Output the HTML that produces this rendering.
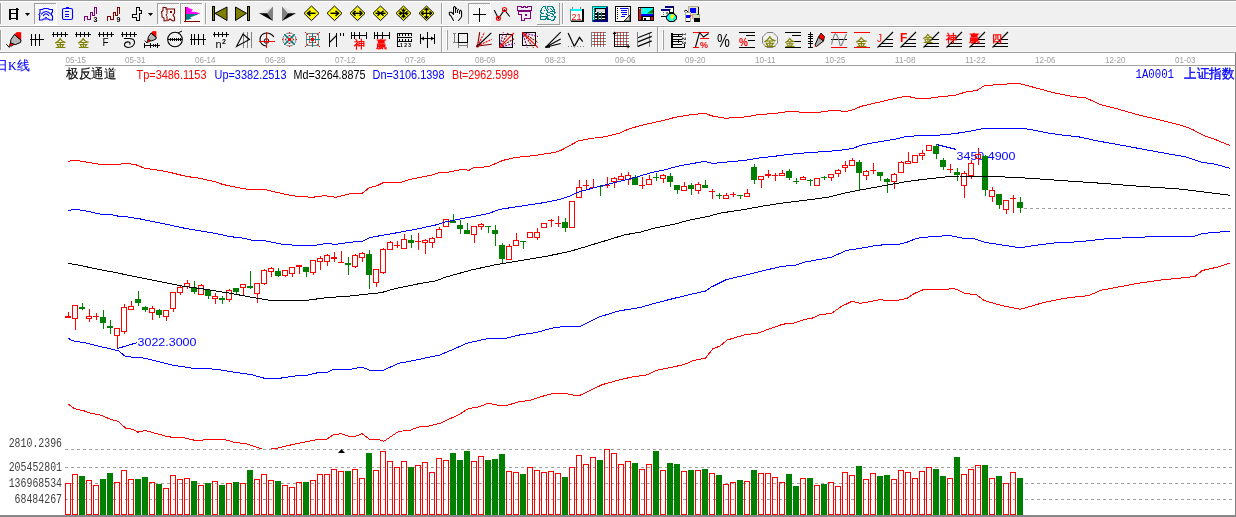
<!DOCTYPE html><html><head><meta charset="utf-8"><style>
html,body{margin:0;padding:0;background:#fff;width:1236px;height:517px;overflow:hidden}
svg{display:block;will-change:transform;font-family:"Liberation Sans",sans-serif}
</style></head><body>
<svg width="1236" height="517" viewBox="0 0 1236 517">
<g shape-rendering="crispEdges">
<rect x="0" y="0" width="1236" height="53" fill="#f0f0f0"/>
<rect x="0" y="0" width="1236" height="1" fill="#a0a0a0"/>
<rect x="0" y="1" width="1236" height="1" fill="#ffffff"/>
<rect x="0" y="25" width="1236" height="1" fill="#ffffff"/>
<rect x="0" y="26" width="1236" height="1" fill="#a0a0a0"/>
<rect x="0" y="27" width="1236" height="1" fill="#ffffff"/>
<rect x="0" y="51" width="1236" height="1" fill="#f8f8f8"/>
<rect x="0" y="52" width="1236" height="1" fill="#a0a0a0"/>
</g>
<defs><pattern id="dith" x="0" y="0" width="2" height="2" patternUnits="userSpaceOnUse"><rect width="2" height="2" fill="#f0f0f0"/><rect width="1" height="1" fill="#ffffff"/><rect x="1" y="1" width="1" height="1" fill="#ffffff"/></pattern></defs>
<g shape-rendering="crispEdges">
<rect x="0" y="3" width="1" height="21" fill="#a0a0a0"/>
<rect x="1" y="3" width="1" height="21" fill="#ffffff"/>
<rect x="9" y="9" width="2" height="11" fill="#000000"/>
<rect x="16" y="8" width="2" height="12" fill="#000000"/>
<rect x="9" y="9" width="9" height="1" fill="#000000"/>
<rect x="11" y="13" width="5" height="1" fill="#000000"/>
<rect x="11" y="18" width="5" height="1" fill="#000000"/>
<rect x="18" y="9" width="1" height="1" fill="#000000"/>
</g>
<polygon points="25,13 30,13 27.5,16" fill="#000000" stroke="none" stroke-width="1"/>
<g shape-rendering="crispEdges">
<rect x="34" y="3" width="23" height="22" fill="url(#dith)"/>
<rect x="34" y="3" width="23" height="1" fill="#a0a0a0"/>
<rect x="34" y="3" width="1" height="22" fill="#a0a0a0"/>
<rect x="34" y="24" width="23" height="1" fill="#ffffff"/>
<rect x="56" y="3" width="1" height="22" fill="#ffffff"/>
<rect x="157" y="3" width="23" height="22" fill="url(#dith)"/>
<rect x="157" y="3" width="23" height="1" fill="#a0a0a0"/>
<rect x="157" y="3" width="1" height="22" fill="#a0a0a0"/>
<rect x="157" y="24" width="23" height="1" fill="#ffffff"/>
<rect x="179" y="3" width="1" height="22" fill="#ffffff"/>
<rect x="180" y="3" width="23" height="22" fill="url(#dith)"/>
<rect x="180" y="3" width="23" height="1" fill="#a0a0a0"/>
<rect x="180" y="3" width="1" height="22" fill="#a0a0a0"/>
<rect x="180" y="24" width="23" height="1" fill="#ffffff"/>
<rect x="202" y="3" width="1" height="22" fill="#ffffff"/>
<rect x="468" y="3" width="23" height="22" fill="url(#dith)"/>
<rect x="468" y="3" width="23" height="1" fill="#a0a0a0"/>
<rect x="468" y="3" width="1" height="22" fill="#a0a0a0"/>
<rect x="468" y="24" width="23" height="1" fill="#ffffff"/>
<rect x="490" y="3" width="1" height="22" fill="#ffffff"/>
<rect x="537" y="3" width="23" height="1" fill="#ffffff"/>
<rect x="537" y="3" width="1" height="22" fill="#ffffff"/>
<rect x="537" y="24" width="23" height="1" fill="#a0a0a0"/>
<rect x="559" y="3" width="1" height="22" fill="#a0a0a0"/>
<rect x="205" y="3" width="1" height="21" fill="#a0a0a0"/>
<rect x="206" y="3" width="1" height="21" fill="#ffffff"/>
<rect x="441" y="3" width="1" height="21" fill="#a0a0a0"/>
<rect x="442" y="3" width="1" height="21" fill="#ffffff"/>
<rect x="562" y="3" width="1" height="21" fill="#a0a0a0"/>
<rect x="563" y="3" width="1" height="21" fill="#ffffff"/>
</g>
<path d="M44,8.5 H48 L49.5,9.5 H52.5 V12 L51.5,13 V15 L52.5,16 V20 H49.5 L48.5,19 H43.5 L42.5,20 H39.5 V17 L40,16 L39,14.5 L40,13 V9.5 H42.5 Z" stroke="#0000ff" stroke-width="1.1" fill="none" />
<path d="M41,14.5 Q46,8.5 51,14.5" stroke="#0000ff" stroke-width="1.1" fill="none" />
<path d="M43,16 Q46,11.5 49,16" stroke="#0000ff" stroke-width="1.1" fill="none" />
<path d="M45,18.5 L46,17 L47,18.5" stroke="#0000ff" stroke-width="1" fill="none" />
<rect x="62.5" y="8.5" width="10" height="11" rx="1.5" fill="none" stroke="#0000ff" stroke-width="1.1"/>
<g shape-rendering="crispEdges">
<rect x="66" y="7" width="3" height="2" fill="#0000ff"/>
<rect x="65" y="11" width="4" height="1" fill="#0000ff"/>
<rect x="65" y="14" width="4" height="1" fill="#0000ff"/>
<rect x="65" y="16" width="4" height="1" fill="#0000ff"/>
</g>
<polyline points="84.5,21 84.5,16.5 87.5,16.5 87.5,19.5 90.5,19.5 90.5,12.5 92.5,12.5 92.5,15.5 94.5,15.5 94.5,7.5 96.5,7.5 96.5,13.5" stroke="#800080" stroke-width="1" fill="none" shape-rendering="crispEdges"/>
<text x="93.6" y="21.8" fill="#000000" font-size="7" font-weight="bold">3</text>
<polyline points="107.5,21 107.5,16.5 110.5,16.5 110.5,19.5 113.5,19.5 113.5,12.5 115.5,12.5 115.5,15.5 117.5,15.5 117.5,7.5 119.5,7.5 119.5,13.5" stroke="#800000" stroke-width="1" fill="none" shape-rendering="crispEdges"/>
<text x="116.6" y="21.8" fill="#000000" font-size="7" font-weight="bold">9</text>
<path d="M136.5,7.5 H139.5 V10.5 H141.5 V13.5 H139.5 V20.5 H136.5 V17.5 H132.5 V14.5 H136.5 Z" stroke="#000000" stroke-width="1" fill="none" shape-rendering="crispEdges"/>
<polygon points="148,13 153,13 150.5,16" fill="#000000" stroke="none" stroke-width="1"/>
<path d="M163,7.5 H166 V9 H174.5 V13 L173,15 L174.5,17.5 V20.5 L173,21 L170,19 L168,20.5 L164,21 V18 L162,17 V14.5 L161.5,12 L163,10.5 Z" stroke="#800000" stroke-width="1.1" fill="none" />
<path d="M167,9 V13.5 L166,15 L167,16.5 V20" stroke="#800000" stroke-width="1" fill="none" />
<g shape-rendering="crispEdges">
<rect x="170" y="11" width="2" height="2" fill="#800000"/>
</g>
<g shape-rendering="crispEdges">
<rect x="185" y="7" width="1" height="15" fill="#800000"/>
<rect x="184" y="21" width="16" height="1" fill="#800000"/>
</g>
<polygon points="186,7 188,7 188.5,8 192.8,9.5 191.3,11.7 196,12.1 200,13.6 200,14 186,14" fill="#ff00ff" stroke="none" stroke-width="1"/>
<polygon points="186,14 198,14 197.8,14.4 192.5,16.6 190,17.2 191.7,18.6 187.7,19.8 186,19.8" fill="#008080" stroke="none" stroke-width="1"/>
<g shape-rendering="crispEdges">
<rect x="212" y="6" width="3" height="15" fill="#000000"/>
<rect x="213" y="7" width="1" height="13" fill="#808000"/>
<rect x="247" y="6" width="3" height="15" fill="#000000"/>
<rect x="248" y="7" width="1" height="13" fill="#808000"/>
</g>
<polygon points="215,13.3 227,7 227,20.5" fill="#808000" stroke="#000000" stroke-width="1"/>
<polygon points="235.5,7 235.5,20.5 246.5,13.3" fill="#808000" stroke="#000000" stroke-width="1"/>
<polygon points="259,13.3 273,6.5 267,13.3" fill="#e0e0e0" stroke="none" stroke-width="1"/>
<polygon points="267,13.3 273,6.5 273,21" fill="#808080" stroke="none" stroke-width="1"/>
<polygon points="259,13.3 267,13.3 273,21" fill="#000000" stroke="none" stroke-width="1"/>
<polygon points="296,13.3 282,6.5 288,13.3" fill="#e0e0e0" stroke="none" stroke-width="1"/>
<polygon points="288,13.3 282,6.5 282,21" fill="#808080" stroke="none" stroke-width="1"/>
<polygon points="296,13.3 288,13.3 282,21" fill="#000000" stroke="none" stroke-width="1"/>
<polygon points="311.5,6 319.0,13.3 311.5,20.6 304.0,13.3" fill="#ffff00" stroke="#000000" stroke-width="1"/>
<line x1="307.5" y1="13.3" x2="315.5" y2="13.3" stroke="#000000" stroke-width="1.5" />
<polyline points="310.5,10.8 307.5,13.3 310.5,15.8" stroke="#000000" stroke-width="1.5" fill="none" />
<polygon points="334.5,6 342.0,13.3 334.5,20.6 327.0,13.3" fill="#ffff00" stroke="#000000" stroke-width="1"/>
<line x1="330.5" y1="13.3" x2="338.5" y2="13.3" stroke="#000000" stroke-width="1.5" />
<polyline points="335.5,10.8 338.5,13.3 335.5,15.8" stroke="#000000" stroke-width="1.5" fill="none" />
<polygon points="357.5,6 365.0,13.3 357.5,20.6 350.0,13.3" fill="#ffff00" stroke="#000000" stroke-width="1"/>
<line x1="357.5" y1="7.300000000000001" x2="357.5" y2="19.3" stroke="#c0c0c0" stroke-width="1" stroke-dasharray="1 1"/>
<line x1="353.5" y1="13.3" x2="361.5" y2="13.3" stroke="#000000" stroke-width="1.5" />
<polyline points="355.5,10.8 353.0,13.3 355.5,15.8" stroke="#000000" stroke-width="1.5" fill="none" />
<polyline points="359.5,10.8 362.0,13.3 359.5,15.8" stroke="#000000" stroke-width="1.5" fill="none" />
<polygon points="380.5,6 388.0,13.3 380.5,20.6 373.0,13.3" fill="#ffff00" stroke="#000000" stroke-width="1"/>
<line x1="380.5" y1="7.300000000000001" x2="380.5" y2="19.3" stroke="#c0c0c0" stroke-width="1" stroke-dasharray="1 1"/>
<line x1="375.5" y1="13.3" x2="385.5" y2="13.3" stroke="#000000" stroke-width="1.5" />
<polyline points="377.5,10.8 380.0,13.3 377.5,15.8" stroke="#000000" stroke-width="1.5" fill="none" />
<polyline points="383.5,10.8 381.0,13.3 383.5,15.8" stroke="#000000" stroke-width="1.5" fill="none" />
<polygon points="403.5,6 411.0,13.3 403.5,20.6 396.0,13.3" fill="#ffff00" stroke="#000000" stroke-width="1"/>
<line x1="398.5" y1="13.3" x2="408.5" y2="13.3" stroke="#000000" stroke-width="1.3" />
<line x1="403.5" y1="8.3" x2="403.5" y2="18.3" stroke="#000000" stroke-width="1.3" />
<polyline points="401.5,9.3 403.5,11.8 405.5,9.3" stroke="#000000" stroke-width="1.2" fill="none" />
<polyline points="401.5,17.3 403.5,14.8 405.5,17.3" stroke="#000000" stroke-width="1.2" fill="none" />
<polyline points="399.5,11.3 402.0,13.3 399.5,15.3" stroke="#000000" stroke-width="1.2" fill="none" />
<polyline points="407.5,11.3 405.0,13.3 407.5,15.3" stroke="#000000" stroke-width="1.2" fill="none" />
<polygon points="426.5,6 434.0,13.3 426.5,20.6 419.0,13.3" fill="#ffff00" stroke="#000000" stroke-width="1"/>
<line x1="421.5" y1="13.3" x2="431.5" y2="13.3" stroke="#000000" stroke-width="1.3" />
<line x1="426.5" y1="8.3" x2="426.5" y2="18.3" stroke="#000000" stroke-width="1.3" />
<polyline points="424.5,10.3 426.5,8.3 428.5,10.3" stroke="#000000" stroke-width="1.3" fill="none" />
<polyline points="424.5,16.3 426.5,18.3 428.5,16.3" stroke="#000000" stroke-width="1.3" fill="none" />
<polyline points="423.5,11.3 421.5,13.3 423.5,15.3" stroke="#000000" stroke-width="1.3" fill="none" />
<polyline points="429.5,11.3 431.5,13.3 429.5,15.3" stroke="#000000" stroke-width="1.3" fill="none" />
<path d="M453.5,20.5 L450.8,15.8 L449.3,14.5 V12.3 H451.7 L453.5,14.5 V7.3 L454.5,6.4 L455.6,7.7 V12.5 M455.6,8.4 L456.7,8.4 M457.6,12.5 V10.2 L458.5,9.3 M459.6,13.6 V11.2 L460.5,10.2 L461.6,11.4 V16.5 L460.7,18 L458.5,20.5" stroke="#ffffff" stroke-width="2.6" fill="none" stroke-linecap="round" stroke-linejoin="round"/>
<path d="M453.5,20.5 L450.8,15.8 L449.3,14.5 V12.3 H451.7 L453.5,14.5 V7.3 L454.5,6.4 L455.6,7.7 V12.5 M455.6,8.4 L456.7,8.4 M457.6,12.5 V10.2 L458.5,9.3 M459.6,13.6 V11.2 L460.5,10.2 L461.6,11.4 V16.5 L460.7,18 L458.5,20.5" stroke="#000000" stroke-width="1.1" fill="none" stroke-linecap="round" stroke-linejoin="round"/>
<g shape-rendering="crispEdges">
<rect x="479" y="8" width="1" height="14" fill="#000000"/>
<rect x="473" y="14" width="13" height="1" fill="#000000"/>
</g>
<polyline points="494.2,10 498.4,18.5 504.5,10 509.7,16.5" stroke="#000000" stroke-width="1.1" fill="none" />
<circle cx="498.4" cy="18.3" r="2" fill="none" stroke="#ff0000" stroke-width="1.2"/>
<circle cx="504.5" cy="9.5" r="2" fill="none" stroke="#ff0000" stroke-width="1.2"/>
<path d="M517.5,6.5 H521.5 V7.5 H523.5 V6.5 H525.5 V7.5 H527.5 V6.5 H531.5 V10.5 H517.5 Z" stroke="#800080" stroke-width="1" fill="none" shape-rendering="crispEdges"/>
<path d="M518.5,11.5 H530.5 V18.5 H524.5 V20.5 H521.5 V14.5 H518.5 Z" stroke="#800080" stroke-width="1" fill="none" shape-rendering="crispEdges"/>
<g shape-rendering="crispEdges">
<rect x="525" y="14" width="2" height="2" fill="#800080"/>
</g>
<g shape-rendering="crispEdges">
<rect x="543" y="6" width="3" height="1" fill="#008080"/>
<rect x="547" y="6" width="6" height="1" fill="#008080"/>
<rect x="542" y="7" width="1" height="1" fill="#008080"/>
<rect x="545" y="7" width="1" height="1" fill="#008080"/>
<rect x="547" y="7" width="1" height="1" fill="#008080"/>
<rect x="552" y="7" width="2" height="1" fill="#008080"/>
<rect x="541" y="8" width="1" height="1" fill="#008080"/>
<rect x="545" y="8" width="1" height="1" fill="#008080"/>
<rect x="547" y="8" width="1" height="1" fill="#008080"/>
<rect x="550" y="8" width="1" height="1" fill="#008080"/>
<rect x="553" y="8" width="1" height="1" fill="#008080"/>
<rect x="541" y="9" width="1" height="1" fill="#008080"/>
<rect x="546" y="9" width="1" height="1" fill="#008080"/>
<rect x="548" y="9" width="1" height="1" fill="#008080"/>
<rect x="551" y="9" width="1" height="1" fill="#008080"/>
<rect x="553" y="9" width="2" height="1" fill="#008080"/>
<rect x="540" y="10" width="2" height="1" fill="#008080"/>
<rect x="544" y="10" width="1" height="1" fill="#008080"/>
<rect x="546" y="10" width="2" height="1" fill="#008080"/>
<rect x="552" y="10" width="1" height="1" fill="#008080"/>
<rect x="554" y="10" width="1" height="1" fill="#008080"/>
<rect x="540" y="11" width="1" height="1" fill="#008080"/>
<rect x="547" y="11" width="1" height="1" fill="#008080"/>
<rect x="550" y="11" width="4" height="1" fill="#008080"/>
<rect x="554" y="11" width="1" height="1" fill="#008080"/>
<rect x="540" y="12" width="2" height="1" fill="#008080"/>
<rect x="547" y="12" width="3" height="1" fill="#008080"/>
<rect x="554" y="12" width="2" height="1" fill="#008080"/>
<rect x="541" y="13" width="3" height="1" fill="#008080"/>
<rect x="546" y="13" width="1" height="1" fill="#008080"/>
<rect x="550" y="13" width="3" height="1" fill="#008080"/>
<rect x="554" y="13" width="1" height="1" fill="#008080"/>
<rect x="540" y="14" width="1" height="1" fill="#008080"/>
<rect x="546" y="14" width="2" height="1" fill="#008080"/>
<rect x="552" y="14" width="2" height="1" fill="#008080"/>
<rect x="540" y="15" width="1" height="1" fill="#008080"/>
<rect x="547" y="15" width="3" height="1" fill="#008080"/>
<rect x="553" y="15" width="1" height="1" fill="#008080"/>
<rect x="540" y="16" width="8" height="1" fill="#008080"/>
<rect x="551" y="16" width="2" height="1" fill="#008080"/>
<rect x="554" y="16" width="2" height="1" fill="#008080"/>
<rect x="540" y="17" width="1" height="1" fill="#008080"/>
<rect x="546" y="17" width="2" height="1" fill="#008080"/>
<rect x="554" y="17" width="2" height="1" fill="#008080"/>
<rect x="540" y="18" width="1" height="1" fill="#008080"/>
<rect x="545" y="18" width="2" height="1" fill="#008080"/>
<rect x="547" y="18" width="2" height="1" fill="#008080"/>
<rect x="554" y="18" width="1" height="1" fill="#008080"/>
<rect x="540" y="19" width="6" height="1" fill="#008080"/>
<rect x="547" y="19" width="4" height="1" fill="#008080"/>
<rect x="553" y="19" width="2" height="1" fill="#008080"/>
<rect x="551" y="20" width="3" height="1" fill="#008080"/>
</g>
<g shape-rendering="crispEdges">
<rect x="571" y="9" width="13" height="13" fill="#000000"/>
<rect x="570" y="9" width="12" height="12" fill="#808080"/>
<rect x="571" y="10" width="11" height="10" fill="#ffffff"/>
<rect x="571" y="9" width="11" height="2" fill="#00ffff"/>
<rect x="572" y="7" width="1" height="2" fill="#808080"/>
<rect x="580" y="7" width="1" height="2" fill="#808080"/>
</g>
<text x="571.5" y="19.5" fill="#ff0000" font-size="9" textLength="10" lengthAdjust="spacingAndGlyphs">21</text>
<g shape-rendering="crispEdges">
<rect x="592" y="6" width="16" height="16" fill="#008080"/>
<rect x="593" y="7" width="1" height="13" fill="#00ffff"/>
<rect x="593" y="7" width="13" height="1" fill="#00ffff"/>
<rect x="606" y="7" width="2" height="15" fill="#000080"/>
<rect x="593" y="20" width="15" height="2" fill="#000080"/>
<rect x="595" y="8" width="11" height="12" fill="#000000"/>
<rect x="596" y="9" width="9" height="3" fill="#d8d8d8"/>
<rect x="595" y="12" width="2" height="1" fill="#ffffff"/>
<rect x="599" y="12" width="2" height="1" fill="#ffffff"/>
<rect x="602" y="12" width="3" height="1" fill="#ffffff"/>
<rect x="595" y="15" width="2" height="1" fill="#ffffff"/>
<rect x="599" y="15" width="2" height="1" fill="#ffffff"/>
<rect x="602" y="15" width="3" height="1" fill="#ffffff"/>
<rect x="595" y="18" width="2" height="1" fill="#ffffff"/>
<rect x="599" y="18" width="2" height="1" fill="#ffffff"/>
<rect x="602" y="18" width="3" height="1" fill="#ffffff"/>
<rect x="598" y="12" width="1" height="8" fill="#008080"/>
<rect x="601" y="12" width="1" height="8" fill="#008080"/>
<rect x="593" y="8" width="1" height="1" fill="#ffffff"/>
<rect x="593" y="10" width="1" height="1" fill="#ffffff"/>
<rect x="593" y="12" width="1" height="1" fill="#ffffff"/>
<rect x="593" y="14" width="1" height="1" fill="#ffffff"/>
<rect x="593" y="16" width="1" height="1" fill="#ffffff"/>
<rect x="593" y="18" width="1" height="1" fill="#ffffff"/>
</g>
<g shape-rendering="crispEdges">
<rect x="615" y="6" width="16" height="16" fill="#000000"/>
<rect x="616" y="7" width="14" height="14" fill="#ffffff"/>
<rect x="617" y="8" width="1" height="1" fill="#000000"/>
<rect x="617" y="10" width="1" height="1" fill="#000000"/>
<rect x="617" y="12" width="1" height="1" fill="#000000"/>
<rect x="617" y="14" width="1" height="1" fill="#000000"/>
<rect x="617" y="16" width="1" height="1" fill="#000000"/>
<rect x="617" y="18" width="1" height="1" fill="#000000"/>
<rect x="620" y="8" width="8" height="1" fill="#0000ff"/>
<rect x="621" y="10" width="6" height="1" fill="#0000ff"/>
<rect x="621" y="12" width="6" height="1" fill="#0000ff"/>
<rect x="622" y="14" width="5" height="1" fill="#0000ff"/>
<rect x="621" y="16" width="4" height="1" fill="#0000ff"/>
<rect x="628" y="8" width="1" height="11" fill="#808080"/>
</g>
<polygon points="624,21 630,15 630,21" fill="#c0c0c0" stroke="#000000" stroke-width="0.8"/>
<g shape-rendering="crispEdges">
<rect x="638" y="7" width="16" height="14" fill="#000000"/>
<rect x="639" y="8" width="2" height="12" fill="#ff0000"/>
<rect x="641" y="8" width="12" height="8" fill="#00ffff"/>
<rect x="641" y="14" width="12" height="2" fill="#0000ff"/>
<rect x="643" y="17" width="7" height="3" fill="#ffffff"/>
<rect x="644" y="18" width="2" height="2" fill="#000000"/>
<rect x="651" y="17" width="2" height="3" fill="#ff0000"/>
<rect x="639" y="8" width="1" height="1" fill="#ffffff"/>
</g>
<polygon points="647,13.5 653,9 653,13.5" fill="#008000" stroke="none" stroke-width="1"/>
<circle cx="644" cy="10" r="0.8" fill="#ffff00"/>
<g shape-rendering="crispEdges">
<rect x="665" y="6" width="9" height="7" fill="#000000"/>
<rect x="665" y="6" width="8" height="6" fill="#ffffff"/>
<rect x="665" y="6" width="8" height="2" fill="#000080"/>
<rect x="670" y="9" width="1" height="1" fill="#808080"/>
<rect x="661" y="9" width="9" height="8" fill="#000000"/>
<rect x="661" y="9" width="8" height="7" fill="#ffffff"/>
<rect x="661" y="9" width="8" height="2" fill="#000080"/>
<rect x="663" y="12" width="1" height="1" fill="#808080"/>
<rect x="663" y="14" width="1" height="1" fill="#808080"/>
<rect x="666" y="12" width="2" height="2" fill="#808080"/>
</g>
<polygon points="669,13 674,13 677,16 677,19 674,22 669,22 666,19 666,16" fill="#000000" stroke="none" stroke-width="1"/>
<polygon points="669.5,14 673.5,14 676,16.5 676,18.5 673.5,21 669.5,21 667,18.5 667,16.5" fill="#00ffff" stroke="none" stroke-width="1"/>
<polygon points="670,16 672,14 675,15.5 673,18 672.5,21 671,19" fill="#ffff00" stroke="none" stroke-width="1"/>
<g shape-rendering="crispEdges">
<rect x="688" y="6" width="11" height="10" fill="#b0b090"/>
<rect x="689" y="7" width="9" height="8" fill="#e0e0c8"/>
<rect x="690" y="8" width="6" height="5" fill="#0000ff"/>
<rect x="698" y="7" width="1" height="9" fill="#000000"/>
<rect x="692" y="14" width="8" height="5" fill="#b0b090"/>
<rect x="693" y="15" width="6" height="3" fill="#d8d8c0"/>
<rect x="697" y="14" width="2" height="1" fill="#008000"/>
<rect x="694" y="18" width="6" height="4" fill="#000000"/>
<rect x="685" y="12" width="6" height="10" fill="#b0b090"/>
<rect x="686" y="13" width="4" height="8" fill="#ffffff"/>
<rect x="686" y="15" width="4" height="3" fill="#0000ff"/>
<rect x="686" y="21" width="4" height="1" fill="#000000"/>
<rect x="690" y="15" width="1" height="2" fill="#ff0000"/>
</g>
<polyline points="684,11.5 686,10 688,12" stroke="#000000" stroke-width="1" fill="none" />
<g shape-rendering="crispEdges">
<rect x="0" y="30" width="1" height="20" fill="#a0a0a0"/>
<rect x="1" y="30" width="1" height="20" fill="#ffffff"/>
<rect x="441" y="27" width="1" height="25" fill="#a0a0a0"/>
<rect x="442" y="27" width="1" height="25" fill="#ffffff"/>
<rect x="447" y="30" width="1" height="20" fill="#a0a0a0"/>
<rect x="446" y="30" width="1" height="20" fill="#ffffff"/>
<rect x="657" y="27" width="1" height="25" fill="#a0a0a0"/>
<rect x="658" y="27" width="1" height="25" fill="#ffffff"/>
<rect x="663" y="30" width="1" height="20" fill="#a0a0a0"/>
<rect x="662" y="30" width="1" height="20" fill="#ffffff"/>
</g>
<polygon points="14.40,34.60 21.00,40.00 20.60,42.40 15.20,44.70 10.40,42.80 11.00,39.30" fill="#b8b8b8" stroke="#000000" stroke-width="1"/>
<polygon points="14.40,34.60 16.80,32.10 21.20,32.30 21.20,40.30" fill="#ff0000" stroke="none" stroke-width="1"/>
<line x1="14.4" y1="34.6" x2="21.0" y2="40.0" stroke="#000000" stroke-width="1" />
<polygon points="10.40,42.80 14.20,44.40 11.50,46.20 9.30,45.60" fill="#ff0000" stroke="#000000" stroke-width="0.6"/>
<polyline points="6.30,44.30 9.40,47.40 10.20,45.50" stroke="#000000" stroke-width="1" fill="none" />
<g shape-rendering="crispEdges">
<rect x="31" y="34" width="1" height="12" fill="#000000"/>
<rect x="35" y="34" width="1" height="12" fill="#000000"/>
<rect x="39" y="34" width="1" height="12" fill="#000000"/>
<rect x="30" y="39" width="14" height="1" fill="#000000"/>
<rect x="52" y="34" width="16" height="1" fill="#000000"/>
<rect x="53" y="32" width="1" height="5" fill="#000000"/>
<rect x="57" y="32" width="1" height="5" fill="#000000"/>
<rect x="61" y="32" width="1" height="5" fill="#000000"/>
<rect x="65" y="32" width="1" height="5" fill="#000000"/>
<rect x="75" y="34" width="16" height="1" fill="#000000"/>
<rect x="76" y="32" width="1" height="5" fill="#000000"/>
<rect x="80" y="32" width="1" height="5" fill="#000000"/>
<rect x="84" y="32" width="1" height="5" fill="#000000"/>
<rect x="88" y="32" width="1" height="5" fill="#000000"/>
<rect x="98" y="34" width="16" height="1" fill="#000000"/>
<rect x="99" y="32" width="1" height="5" fill="#000000"/>
<rect x="103" y="32" width="1" height="5" fill="#000000"/>
<rect x="107" y="32" width="1" height="5" fill="#000000"/>
<rect x="111" y="32" width="1" height="5" fill="#000000"/>
<rect x="121" y="34" width="16" height="1" fill="#000000"/>
<rect x="122" y="32" width="1" height="5" fill="#000000"/>
<rect x="126" y="32" width="1" height="5" fill="#000000"/>
<rect x="130" y="32" width="1" height="5" fill="#000000"/>
<rect x="134" y="32" width="1" height="5" fill="#000000"/>
<rect x="213" y="34" width="16" height="1" fill="#000000"/>
<rect x="214" y="32" width="1" height="5" fill="#000000"/>
<rect x="218" y="32" width="1" height="5" fill="#000000"/>
<rect x="222" y="32" width="1" height="5" fill="#000000"/>
<rect x="226" y="32" width="1" height="5" fill="#000000"/>
</g>
<text x="54.5" y="47" fill="#808000" font-size="10.5" font-weight="bold">金</text>
<text x="77.5" y="47" fill="#808000" font-size="10.5" font-weight="bold">金</text>
<text x="102.5" y="46" fill="#000000" font-size="10" >F</text>
<path d="M124,38.5 H130 Q135,39 134.5,43 Q133.5,47.5 128,47.5 Q124,47 124.5,44 Q125.5,41.5 129,42 Q131,43 129.5,44.5" stroke="#000000" stroke-width="1.1" fill="none" />
<polygon points="151.05,33.03 156.20,37.24 155.89,39.11 151.68,40.91 147.93,39.42 148.40,36.69" fill="#b8b8b8" stroke="#000000" stroke-width="1"/>
<polygon points="151.05,33.03 152.92,31.08 156.36,31.23 156.36,37.47" fill="#ff0000" stroke="none" stroke-width="1"/>
<line x1="151.052" y1="33.028" x2="156.2" y2="37.24" stroke="#000000" stroke-width="1" />
<polygon points="147.93,39.42 150.90,40.67 148.79,42.08 147.07,41.61" fill="#ff0000" stroke="#000000" stroke-width="0.6"/>
<polyline points="144.73,40.59 147.15,43.01 147.78,41.53" stroke="#000000" stroke-width="1" fill="none" />
<g shape-rendering="crispEdges">
<rect x="144" y="45" width="16" height="1" fill="#000000"/>
<rect x="144" y="43" width="1" height="5" fill="#000000"/>
<rect x="150" y="43" width="1" height="5" fill="#000000"/>
<rect x="153" y="44" width="1" height="3" fill="#000000"/>
<rect x="155" y="44" width="1" height="3" fill="#000000"/>
<rect x="157" y="43" width="1" height="5" fill="#000000"/>
</g>
<circle cx="175" cy="39.5" r="7.3" fill="none" stroke="#000000" stroke-width="1.1"/>
<g shape-rendering="crispEdges">
<rect x="168" y="39" width="14" height="1" fill="#000000"/>
<rect x="170" y="38" width="1" height="3" fill="#000000"/>
<rect x="172" y="38" width="1" height="3" fill="#000000"/>
<rect x="174" y="38" width="1" height="3" fill="#000000"/>
<rect x="176" y="38" width="1" height="3" fill="#000000"/>
<rect x="178" y="38" width="1" height="3" fill="#000000"/>
<rect x="180" y="38" width="1" height="3" fill="#000000"/>
<rect x="191" y="34" width="1" height="11" fill="#000000"/>
<rect x="194" y="34" width="1" height="11" fill="#000000"/>
<rect x="198" y="34" width="1" height="11" fill="#000000"/>
<rect x="203" y="34" width="1" height="11" fill="#000000"/>
<rect x="190" y="39" width="16" height="1" fill="#000000"/>
</g>
<line x1="178" y1="33" x2="182" y2="31" stroke="#000000" stroke-width="1" />
<text x="215.5" y="47.5" fill="#000000" font-size="11" >n</text>
<text x="222" y="43.5" fill="#000000" font-size="7" font-weight="bold">2</text>
<g shape-rendering="crispEdges">
<rect x="243" y="32" width="1" height="16" fill="#808080"/>
<rect x="247" y="32" width="1" height="16" fill="#808080"/>
<rect x="251" y="32" width="1" height="16" fill="#808080"/>
</g>
<polygon points="236.5,46.5 243,34 249.5,39.5" fill="none" stroke="#000000" stroke-width="1.1"/>
<path d="M266.5,46 A6.5,6.5 0 1 1 266.5,33 Q271,33 274,37" stroke="#000000" stroke-width="1.1" fill="none" />
<circle cx="266.5" cy="41" r="2.3" fill="none" stroke="#000000" stroke-width="1"/>
<g shape-rendering="crispEdges">
<rect x="266" y="32" width="1" height="16" fill="#ff0000"/>
<rect x="259" y="41" width="16" height="1" fill="#ff0000"/>
</g>
<polygon points="286.8,33.3 292,33.3 295.7,37 295.7,42 292,45.7 286.8,45.7 283.1,42 283.1,37" fill="none" stroke="#808080" stroke-width="1"/>
<polygon points="288,36 291,36 293,38 293,41 291,43 288,43 286,41 286,38" fill="none" stroke="#808080" stroke-width="1"/>
<line x1="285" y1="35" x2="294" y2="44" stroke="#008080" stroke-width="1.6" />
<line x1="294" y1="35" x2="285" y2="44" stroke="#008080" stroke-width="1.6" />
<g shape-rendering="crispEdges">
<rect x="289" y="32" width="1" height="1" fill="#ff0000"/>
<rect x="289" y="35" width="1" height="1" fill="#ff0000"/>
<rect x="289" y="43" width="1" height="1" fill="#ff0000"/>
<rect x="289" y="46" width="1" height="1" fill="#ff0000"/>
<rect x="282" y="39" width="1" height="1" fill="#ff0000"/>
<rect x="285" y="39" width="1" height="1" fill="#ff0000"/>
<rect x="293" y="39" width="1" height="1" fill="#ff0000"/>
<rect x="296" y="39" width="1" height="1" fill="#ff0000"/>
<rect x="288" y="38" width="3" height="3" fill="#ff0000"/>
<rect x="284" y="34" width="1" height="1" fill="#008080"/>
<rect x="294" y="34" width="1" height="1" fill="#008080"/>
<rect x="284" y="44" width="1" height="1" fill="#008080"/>
<rect x="294" y="44" width="1" height="1" fill="#008080"/>
<rect x="306.5" y="33.5" width="12" height="12" fill="none" stroke="#808080"/>
<rect x="309.5" y="36.5" width="6" height="6" fill="none" stroke="#808080"/>
<rect x="312" y="33" width="1" height="14" fill="#008080"/>
<rect x="306" y="39" width="14" height="1" fill="#008080"/>
<rect x="305" y="32" width="1" height="1" fill="#ff0000"/>
<rect x="319" y="32" width="1" height="1" fill="#ff0000"/>
<rect x="305" y="46" width="1" height="1" fill="#ff0000"/>
<rect x="319" y="46" width="1" height="1" fill="#ff0000"/>
<rect x="307" y="34" width="1" height="1" fill="#ff0000"/>
<rect x="317" y="34" width="1" height="1" fill="#ff0000"/>
<rect x="307" y="44" width="1" height="1" fill="#ff0000"/>
<rect x="317" y="44" width="1" height="1" fill="#ff0000"/>
<rect x="309" y="36" width="1" height="1" fill="#ff0000"/>
<rect x="315" y="36" width="1" height="1" fill="#ff0000"/>
<rect x="309" y="42" width="1" height="1" fill="#ff0000"/>
<rect x="315" y="42" width="1" height="1" fill="#ff0000"/>
<rect x="311" y="38" width="3" height="3" fill="#ff0000"/>
<rect x="329" y="33" width="1" height="14" fill="#000000"/>
<rect x="336" y="33" width="1" height="14" fill="#000000"/>
<rect x="340" y="33" width="1" height="3" fill="#000000"/>
<rect x="343" y="33" width="1" height="3" fill="#000000"/>
</g>
<line x1="329.5" y1="42.5" x2="336.5" y2="35.5" stroke="#000000" stroke-width="1.1" />
<g shape-rendering="crispEdges">
<rect x="351" y="35" width="16" height="1" fill="#000000"/>
<rect x="351" y="32" width="1" height="7" fill="#000000"/>
<rect x="354" y="32" width="1" height="7" fill="#000000"/>
<rect x="359" y="32" width="1" height="7" fill="#000000"/>
<rect x="366" y="32" width="1" height="7" fill="#000000"/>
<rect x="374" y="35" width="16" height="1" fill="#000000"/>
<rect x="374" y="32" width="1" height="7" fill="#000000"/>
<rect x="377" y="32" width="1" height="7" fill="#000000"/>
<rect x="382" y="32" width="1" height="7" fill="#000000"/>
<rect x="389" y="32" width="1" height="7" fill="#000000"/>
</g>
<text x="353.5" y="47.5" fill="#ff0000" font-size="11" font-weight="bold">神</text>
<text x="375.5" y="47.5" fill="#ff0000" font-size="11" font-weight="bold">赢</text>
<g shape-rendering="crispEdges">
<rect x="397" y="33" width="15" height="1" fill="#000000"/>
<rect x="397" y="33" width="1" height="14" fill="#000000"/>
<rect x="397" y="46" width="3" height="1" fill="#000000"/>
<rect x="399" y="34" width="1" height="2" fill="#000000"/>
<rect x="402" y="34" width="1" height="2" fill="#000000"/>
<rect x="405" y="34" width="1" height="2" fill="#000000"/>
<rect x="408" y="34" width="1" height="2" fill="#000000"/>
<rect x="411" y="34" width="1" height="2" fill="#000000"/>
<rect x="398" y="41" width="14" height="1" fill="#000000"/>
<rect x="399" y="39" width="1" height="2" fill="#000000"/>
<rect x="402" y="39" width="1" height="2" fill="#000000"/>
<rect x="405" y="39" width="1" height="2" fill="#000000"/>
<rect x="408" y="39" width="1" height="2" fill="#000000"/>
<rect x="411" y="39" width="1" height="2" fill="#000000"/>
<rect x="398" y="37" width="14" height="1" fill="#000000"/>
</g>
<text x="400" y="47" fill="#000000" font-size="5" font-weight="bold">1 2 3</text>
<g shape-rendering="crispEdges">
<rect x="420" y="34" width="1" height="10" fill="#000000"/>
<rect x="434" y="34" width="1" height="10" fill="#000000"/>
<rect x="427" y="32" width="1" height="16" fill="#000000"/>
<rect x="421" y="38" width="13" height="1" fill="#000000"/>
</g>
<polygon points="421,38.5 424,36.5 424,40.5" fill="#000000" stroke="none" stroke-width="1"/>
<polygon points="434,38.5 431,36.5 431,40.5" fill="#000000" stroke="none" stroke-width="1"/>
<g shape-rendering="crispEdges">
<rect x="458.5" y="33.5" width="9" height="9" fill="none" stroke="#000000" stroke-width="1.4"/>
<rect x="454" y="33" width="1" height="10" fill="#808080"/>
<rect x="453" y="33" width="3" height="1" fill="#808080"/>
<rect x="453" y="42" width="5" height="1" fill="#808080"/>
<rect x="458" y="45" width="10" height="1" fill="#808080"/>
<rect x="458" y="43" width="1" height="5" fill="#808080"/>
<rect x="467" y="43" width="1" height="5" fill="#808080"/>
</g>
<line x1="477.5" y1="46" x2="479.7" y2="32.2" stroke="#800000" stroke-width="1.1" />
<line x1="477.5" y1="46" x2="484.5" y2="32.2" stroke="#ff0000" stroke-width="1.1" stroke-dasharray="2 1"/>
<line x1="477.5" y1="46" x2="491.3" y2="32.8" stroke="#000000" stroke-width="1.1" />
<line x1="477.5" y1="46" x2="491.7" y2="39.3" stroke="#ff0000" stroke-width="1.1" stroke-dasharray="2 1"/>
<line x1="477.5" y1="46" x2="491.7" y2="44.2" stroke="#800000" stroke-width="1.1" />
<circle cx="477.5" cy="46" r="1.5" fill="#800000"/>
<g shape-rendering="crispEdges">
<rect x="499.5" y="34.5" width="13" height="13" fill="none" stroke="#000000" stroke-width="1.2"/>
</g>
<line x1="499.5" y1="47.5" x2="503.4" y2="32.2" stroke="#800080" stroke-width="1.1" stroke-dasharray="2 1"/>
<line x1="499.5" y1="47.5" x2="514.7" y2="43.2" stroke="#800080" stroke-width="1.1" stroke-dasharray="2 1"/>
<line x1="499.5" y1="47.5" x2="508.6" y2="32.2" stroke="#800000" stroke-width="1.1" stroke-dasharray="2 1"/>
<line x1="499.5" y1="47.5" x2="514.7" y2="38.3" stroke="#800000" stroke-width="1.1" stroke-dasharray="2 1"/>
<line x1="499.5" y1="47.5" x2="514" y2="32.8" stroke="#ff0000" stroke-width="1.1" />
<g shape-rendering="crispEdges">
<rect x="522.5" y="32.5" width="13" height="13" fill="none" stroke="#000000" stroke-width="1.2"/>
</g>
<line x1="522.5" y1="32.5" x2="527.3" y2="47.7" stroke="#800080" stroke-width="1.1" stroke-dasharray="2 1"/>
<line x1="522.5" y1="32.5" x2="538" y2="36.4" stroke="#800080" stroke-width="1.1" stroke-dasharray="2 1"/>
<line x1="522.5" y1="32.5" x2="533.5" y2="47.7" stroke="#800000" stroke-width="1.1" stroke-dasharray="2 1"/>
<line x1="522.5" y1="32.5" x2="538" y2="42.5" stroke="#800000" stroke-width="1.1" stroke-dasharray="2 1"/>
<line x1="522.5" y1="32.5" x2="538" y2="47.7" stroke="#ff0000" stroke-width="1.1" />
<line x1="545.5" y1="47.3" x2="560.7" y2="32.2" stroke="#000000" stroke-width="1.1" />
<line x1="545.5" y1="47.3" x2="560.7" y2="39" stroke="#000000" stroke-width="1.1" />
<line x1="545.5" y1="47.3" x2="560.7" y2="43.5" stroke="#000000" stroke-width="1.1" />
<polygon points="545,47.8 550,44.5 550,47.8" fill="#000000" stroke="none" stroke-width="1"/>
<polyline points="568.1,33.1 574.3,46.4 579.5,37.4 582.7,41.6" stroke="#000000" stroke-width="1.2" fill="none" />
<line x1="568" y1="46.5" x2="584" y2="46.5" stroke="#808080" stroke-width="1" stroke-dasharray="1 2"/>
<g shape-rendering="crispEdges">
<rect x="591" y="32" width="15" height="15" fill="#808080"/>
<rect x="592" y="33" width="2" height="2" fill="#ffffff"/>
<rect x="595" y="33" width="2" height="2" fill="#ffffff"/>
<rect x="598" y="33" width="2" height="2" fill="#ffffff"/>
<rect x="601" y="33" width="2" height="2" fill="#ffffff"/>
<rect x="604" y="33" width="2" height="2" fill="#ffffff"/>
<rect x="592" y="36" width="2" height="2" fill="#ffffff"/>
<rect x="595" y="36" width="2" height="2" fill="#ffffff"/>
<rect x="598" y="36" width="2" height="2" fill="#ffffff"/>
<rect x="601" y="36" width="2" height="2" fill="#ffffff"/>
<rect x="604" y="36" width="2" height="2" fill="#ffffff"/>
<rect x="592" y="39" width="2" height="2" fill="#ffffff"/>
<rect x="595" y="39" width="2" height="2" fill="#ffffff"/>
<rect x="598" y="39" width="2" height="2" fill="#ffffff"/>
<rect x="601" y="39" width="2" height="2" fill="#ffffff"/>
<rect x="604" y="39" width="2" height="2" fill="#ffffff"/>
<rect x="592" y="42" width="2" height="2" fill="#ffffff"/>
<rect x="595" y="42" width="2" height="2" fill="#ffffff"/>
<rect x="598" y="42" width="2" height="2" fill="#ffffff"/>
<rect x="601" y="42" width="2" height="2" fill="#ffffff"/>
<rect x="604" y="42" width="2" height="2" fill="#ffffff"/>
<rect x="592" y="45" width="2" height="2" fill="#ffffff"/>
<rect x="595" y="45" width="2" height="2" fill="#ffffff"/>
<rect x="598" y="45" width="2" height="2" fill="#ffffff"/>
<rect x="601" y="45" width="2" height="2" fill="#ffffff"/>
<rect x="604" y="45" width="2" height="2" fill="#ffffff"/>
<rect x="594" y="32" width="1" height="1" fill="#ff0000"/>
<rect x="597" y="32" width="1" height="1" fill="#ff0000"/>
<rect x="600" y="32" width="1" height="1" fill="#ff0000"/>
<rect x="603" y="32" width="1" height="1" fill="#ff0000"/>
<rect x="594" y="35" width="1" height="1" fill="#ff0000"/>
<rect x="597" y="35" width="1" height="1" fill="#ff0000"/>
<rect x="600" y="35" width="1" height="1" fill="#ff0000"/>
<rect x="603" y="35" width="1" height="1" fill="#ff0000"/>
<rect x="594" y="38" width="1" height="1" fill="#ff0000"/>
<rect x="597" y="38" width="1" height="1" fill="#ff0000"/>
<rect x="600" y="38" width="1" height="1" fill="#ff0000"/>
<rect x="603" y="38" width="1" height="1" fill="#ff0000"/>
<rect x="594" y="41" width="1" height="1" fill="#ff0000"/>
<rect x="597" y="41" width="1" height="1" fill="#ff0000"/>
<rect x="600" y="41" width="1" height="1" fill="#ff0000"/>
<rect x="603" y="41" width="1" height="1" fill="#ff0000"/>
<rect x="594" y="44" width="1" height="1" fill="#ff0000"/>
<rect x="597" y="44" width="1" height="1" fill="#ff0000"/>
<rect x="600" y="44" width="1" height="1" fill="#ff0000"/>
<rect x="603" y="44" width="1" height="1" fill="#ff0000"/>
</g>
<g shape-rendering="crispEdges">
<rect x="614" y="32" width="15" height="15" fill="#808080"/>
<rect x="615" y="33" width="2" height="2" fill="#ffffff"/>
<rect x="618" y="33" width="2" height="2" fill="#ffffff"/>
<rect x="621" y="33" width="2" height="2" fill="#ffffff"/>
<rect x="624" y="33" width="2" height="2" fill="#ffffff"/>
<rect x="627" y="33" width="2" height="2" fill="#ffffff"/>
<rect x="615" y="36" width="2" height="2" fill="#ffffff"/>
<rect x="618" y="36" width="2" height="2" fill="#ffffff"/>
<rect x="621" y="36" width="2" height="2" fill="#ffffff"/>
<rect x="624" y="36" width="2" height="2" fill="#ffffff"/>
<rect x="627" y="36" width="2" height="2" fill="#ffffff"/>
<rect x="615" y="39" width="2" height="2" fill="#ffffff"/>
<rect x="618" y="39" width="2" height="2" fill="#ffffff"/>
<rect x="621" y="39" width="2" height="2" fill="#ffffff"/>
<rect x="624" y="39" width="2" height="2" fill="#ffffff"/>
<rect x="627" y="39" width="2" height="2" fill="#ffffff"/>
<rect x="615" y="42" width="2" height="2" fill="#ffffff"/>
<rect x="618" y="42" width="2" height="2" fill="#ffffff"/>
<rect x="621" y="42" width="2" height="2" fill="#ffffff"/>
<rect x="624" y="42" width="2" height="2" fill="#ffffff"/>
<rect x="627" y="42" width="2" height="2" fill="#ffffff"/>
<rect x="615" y="45" width="2" height="2" fill="#ffffff"/>
<rect x="618" y="45" width="2" height="2" fill="#ffffff"/>
<rect x="621" y="45" width="2" height="2" fill="#ffffff"/>
<rect x="624" y="45" width="2" height="2" fill="#ffffff"/>
<rect x="627" y="45" width="2" height="2" fill="#ffffff"/>
<rect x="617" y="32" width="1" height="1" fill="#ff0000"/>
<rect x="620" y="32" width="1" height="1" fill="#ff0000"/>
<rect x="623" y="32" width="1" height="1" fill="#ff0000"/>
<rect x="626" y="32" width="1" height="1" fill="#ff0000"/>
<rect x="617" y="35" width="1" height="1" fill="#ff0000"/>
<rect x="620" y="35" width="1" height="1" fill="#ff0000"/>
<rect x="623" y="35" width="1" height="1" fill="#ff0000"/>
<rect x="626" y="35" width="1" height="1" fill="#ff0000"/>
<rect x="617" y="38" width="1" height="1" fill="#ff0000"/>
<rect x="620" y="38" width="1" height="1" fill="#ff0000"/>
<rect x="623" y="38" width="1" height="1" fill="#ff0000"/>
<rect x="626" y="38" width="1" height="1" fill="#ff0000"/>
<rect x="617" y="41" width="1" height="1" fill="#ff0000"/>
<rect x="620" y="41" width="1" height="1" fill="#ff0000"/>
<rect x="623" y="41" width="1" height="1" fill="#ff0000"/>
<rect x="626" y="41" width="1" height="1" fill="#ff0000"/>
<rect x="617" y="44" width="1" height="1" fill="#ff0000"/>
<rect x="620" y="44" width="1" height="1" fill="#ff0000"/>
<rect x="623" y="44" width="1" height="1" fill="#ff0000"/>
<rect x="626" y="44" width="1" height="1" fill="#ff0000"/>
<rect x="614" y="32" width="1" height="15" fill="#000000"/>
<rect x="614" y="46" width="15" height="1" fill="#000000"/>
</g>
<polygon points="614.5,31.5 612.5,34 616.5,34" fill="#000000" stroke="none" stroke-width="1"/>
<polygon points="630,46.5 627.5,44.5 627.5,48.5" fill="#000000" stroke="none" stroke-width="1"/>
<g shape-rendering="crispEdges">
<rect x="637" y="32" width="1" height="15" fill="#808080"/>
<rect x="649" y="33" width="1" height="14" fill="#808080"/>
</g>
<line x1="638" y1="37.7" x2="651.7" y2="32.2" stroke="#000000" stroke-width="1.2" />
<line x1="638" y1="41.900000000000006" x2="651.7" y2="36.400000000000006" stroke="#000000" stroke-width="1.2" />
<line x1="638" y1="46.400000000000006" x2="651.7" y2="40.900000000000006" stroke="#000000" stroke-width="1.2" />
<g shape-rendering="crispEdges">
<rect x="671" y="33" width="2" height="15" fill="#000000"/>
<rect x="671" y="47" width="14" height="1" fill="#000000"/>
<rect x="684" y="44" width="1" height="4" fill="#000000"/>
<rect x="673" y="34" width="9" height="1" fill="#000000"/>
<rect x="673" y="36" width="9" height="1" fill="#000000"/>
<rect x="673" y="39" width="9" height="1" fill="#000000"/>
<rect x="673" y="41" width="9" height="1" fill="#000000"/>
<rect x="673" y="44" width="9" height="1" fill="#000000"/>
<rect x="678" y="35" width="1" height="1" fill="#000000"/>
<rect x="678" y="40" width="1" height="1" fill="#000000"/>
<rect x="678" y="42" width="1" height="1" fill="#000000"/>
</g>
<text x="0" y="0" fill="#000000" font-size="5" font-weight="bold" transform="translate(681.5,33) rotate(90)">1 2 3</text>
<g shape-rendering="crispEdges">
<rect x="693" y="32" width="16" height="1" fill="#ff0000"/>
<rect x="693" y="47" width="6" height="1" fill="#ff0000"/>
<rect x="700" y="38" width="9" height="1" fill="#ff0000"/>
</g>
<polyline points="695.5,47 699.5,32.5 703.5,37 708.5,33.5" stroke="#000000" stroke-width="1.1" fill="none" />
<text x="700" y="47.5" fill="#ff0000" font-size="9" font-weight="bold">%</text>
<text x="0" y="0" fill="#000000" font-size="14.5" transform="translate(717,46.6) scale(1,1.22)">%</text>
<g shape-rendering="crispEdges">
<rect x="739" y="32" width="16" height="1" fill="#000000"/>
<rect x="746" y="35" width="9" height="1" fill="#000000"/>
<rect x="748" y="40" width="7" height="1" fill="#000000"/>
<rect x="739" y="47" width="16" height="1" fill="#000000"/>
</g>
<text x="739" y="46" fill="#ff0000" font-size="10" font-weight="bold">%</text>
<polygon points="767,32.5 773,32.5 777.5,37 777.5,43 773,47.5 767,47.5 762.5,43 762.5,37" fill="none" stroke="#808080" stroke-width="1"/>
<text x="764" y="45.5" fill="#808000" font-size="11.5" font-weight="bold">金</text>
<g shape-rendering="crispEdges">
<rect x="785" y="32" width="16" height="1" fill="#000000"/>
<rect x="792" y="35" width="9" height="1" fill="#000000"/>
<rect x="794" y="41" width="7" height="1" fill="#000000"/>
<rect x="785" y="47" width="16" height="1" fill="#000000"/>
</g>
<text x="784.5" y="46" fill="#808000" font-size="10" font-weight="bold">金</text>
<g shape-rendering="crispEdges">
<rect x="810" y="32" width="1" height="16" fill="#000000"/>
<rect x="808" y="34" width="5" height="1" fill="#000000"/>
<rect x="808" y="36" width="5" height="1" fill="#000000"/>
<rect x="808" y="38" width="5" height="1" fill="#000000"/>
<rect x="808" y="41" width="5" height="1" fill="#000000"/>
<rect x="808" y="43" width="5" height="1" fill="#000000"/>
<rect x="808" y="47" width="5" height="1" fill="#000000"/>
</g>
<polygon points="815,45 818.5,37 823.5,41 816.5,46.5" fill="#b0b0b0" stroke="#000000" stroke-width="1"/>
<polygon points="818.5,37 821,33 824.5,36.5 823.5,41" fill="#ff0000" stroke="#000000" stroke-width="0.8"/>
<polygon points="815,45 816.5,46.5 814.5,47" fill="#ff0000" stroke="none" stroke-width="1"/>
<g shape-rendering="crispEdges">
<rect x="831" y="32" width="16" height="1" fill="#ff0000"/>
<rect x="831" y="47" width="16" height="1" fill="#ff0000"/>
<rect x="831" y="39" width="16" height="1" fill="#000000"/>
</g>
<path d="M831.5,44.5 Q834.5,32 836,34 Q838.5,37 840,45 Q841,47 842,44 L846.5,34" stroke="#808080" stroke-width="1.1" fill="none" />
<g shape-rendering="crispEdges">
<rect x="854" y="32" width="16" height="1" fill="#ff0000"/>
<rect x="854" y="47" width="16" height="1" fill="#ff0000"/>
</g>
<text x="856" y="45.5" fill="#808000" font-size="10.5" font-weight="bold">金</text>
<line x1="877.5" y1="47.5" x2="893" y2="32" stroke="#000000" stroke-width="1.1" />
<g shape-rendering="crispEdges">
<rect x="886" y="39" width="7" height="1" fill="#000000"/>
<rect x="882" y="43" width="11" height="1" fill="#000000"/>
<rect x="879" y="46" width="14" height="1" fill="#000000"/>
</g>
<text x="877" y="41.5" fill="#ff0000" font-size="10" >J</text>
<line x1="900.5" y1="47.5" x2="916" y2="32" stroke="#000000" stroke-width="1.1" />
<g shape-rendering="crispEdges">
<rect x="909" y="39" width="7" height="1" fill="#000000"/>
<rect x="905" y="43" width="11" height="1" fill="#000000"/>
<rect x="902" y="46" width="14" height="1" fill="#000000"/>
</g>
<text x="900" y="41.5" fill="#ff0000" font-size="12" font-weight="bold">F</text>
<line x1="923.5" y1="47.5" x2="939" y2="32" stroke="#000000" stroke-width="1.1" />
<g shape-rendering="crispEdges">
<rect x="932" y="39" width="7" height="1" fill="#000000"/>
<rect x="928" y="43" width="11" height="1" fill="#000000"/>
<rect x="925" y="46" width="14" height="1" fill="#000000"/>
</g>
<text x="923" y="41.5" fill="#808000" font-size="10" font-weight="bold">金</text>
<line x1="946.5" y1="47.5" x2="962" y2="32" stroke="#000000" stroke-width="1.1" />
<g shape-rendering="crispEdges">
<rect x="955" y="39" width="7" height="1" fill="#000000"/>
<rect x="951" y="43" width="11" height="1" fill="#000000"/>
<rect x="948" y="46" width="14" height="1" fill="#000000"/>
</g>
<text x="946" y="41.5" fill="#ff0000" font-size="11" font-weight="bold">神</text>
<line x1="969.5" y1="47.5" x2="985" y2="32" stroke="#000000" stroke-width="1.1" />
<g shape-rendering="crispEdges">
<rect x="978" y="39" width="7" height="1" fill="#000000"/>
<rect x="974" y="43" width="11" height="1" fill="#000000"/>
<rect x="971" y="46" width="14" height="1" fill="#000000"/>
</g>
<text x="969" y="41.5" fill="#ff0000" font-size="11" font-weight="bold">赢</text>
<line x1="992.5" y1="47.5" x2="1008" y2="32" stroke="#000000" stroke-width="1.1" />
<g shape-rendering="crispEdges">
<rect x="1001" y="39" width="7" height="1" fill="#000000"/>
<rect x="997" y="43" width="11" height="1" fill="#000000"/>
<rect x="994" y="46" width="14" height="1" fill="#000000"/>
</g>
<text x="992" y="41.5" fill="#ff0000" font-size="10" font-weight="bold">四</text>
<g shape-rendering="crispEdges">
<rect x="1235" y="53" width="1" height="462" fill="#808080"/>
<rect x="0" y="515" width="1236" height="2" fill="#888888"/>
<rect x="65" y="65" width="1170" height="1" fill="#a0a0a0"/>
<line x1="65" y1="449.5" x2="1234" y2="449.5" stroke="#a0a0a0" stroke-width="1" stroke-dasharray="3 3"/>
<line x1="65" y1="467.5" x2="1234" y2="467.5" stroke="#a0a0a0" stroke-width="1" stroke-dasharray="3 3"/>
<line x1="65" y1="483.5" x2="1234" y2="483.5" stroke="#a0a0a0" stroke-width="1" stroke-dasharray="3 3"/>
<line x1="65" y1="499.5" x2="1234" y2="499.5" stroke="#a0a0a0" stroke-width="1" stroke-dasharray="3 3"/>
<line x1="1024" y1="208.5" x2="1234" y2="208.5" stroke="#a0a0a0" stroke-width="1" stroke-dasharray="3 3"/>
</g>
<text x="65.5" y="63" font-size="9.5" fill="#a0a0a0" textLength="20.5" lengthAdjust="spacingAndGlyphs">05-15</text>
<text x="125" y="63" font-size="9.5" fill="#a0a0a0" textLength="20.5" lengthAdjust="spacingAndGlyphs">05-31</text>
<text x="195" y="63" font-size="9.5" fill="#a0a0a0" textLength="20.5" lengthAdjust="spacingAndGlyphs">06-14</text>
<text x="265" y="63" font-size="9.5" fill="#a0a0a0" textLength="20.5" lengthAdjust="spacingAndGlyphs">06-28</text>
<text x="335" y="63" font-size="9.5" fill="#a0a0a0" textLength="20.5" lengthAdjust="spacingAndGlyphs">07-12</text>
<text x="405" y="63" font-size="9.5" fill="#a0a0a0" textLength="20.5" lengthAdjust="spacingAndGlyphs">07-26</text>
<text x="475" y="63" font-size="9.5" fill="#a0a0a0" textLength="20.5" lengthAdjust="spacingAndGlyphs">08-09</text>
<text x="545" y="63" font-size="9.5" fill="#a0a0a0" textLength="20.5" lengthAdjust="spacingAndGlyphs">08-23</text>
<text x="615" y="63" font-size="9.5" fill="#a0a0a0" textLength="20.5" lengthAdjust="spacingAndGlyphs">09-06</text>
<text x="685" y="63" font-size="9.5" fill="#a0a0a0" textLength="20.5" lengthAdjust="spacingAndGlyphs">09-20</text>
<text x="755" y="63" font-size="9.5" fill="#a0a0a0" textLength="20.5" lengthAdjust="spacingAndGlyphs">10-11</text>
<text x="825" y="63" font-size="9.5" fill="#a0a0a0" textLength="20.5" lengthAdjust="spacingAndGlyphs">10-25</text>
<text x="895" y="63" font-size="9.5" fill="#a0a0a0" textLength="20.5" lengthAdjust="spacingAndGlyphs">11-08</text>
<text x="965" y="63" font-size="9.5" fill="#a0a0a0" textLength="20.5" lengthAdjust="spacingAndGlyphs">11-22</text>
<text x="1035" y="63" font-size="9.5" fill="#a0a0a0" textLength="20.5" lengthAdjust="spacingAndGlyphs">12-06</text>
<text x="1105" y="63" font-size="9.5" fill="#a0a0a0" textLength="20.5" lengthAdjust="spacingAndGlyphs">12-20</text>
<text x="1175" y="63" font-size="9.5" fill="#a0a0a0" textLength="20.5" lengthAdjust="spacingAndGlyphs">01-03</text>
<g shape-rendering="crispEdges" fill="none">
<polyline points="117.5,348.5 137.5,342.5" stroke="#0000ff"/>
<polyline points="936.5,144.5 956.5,149.5" stroke="#0000ff"/>
</g>
<text x="137.5" y="346.2" font-size="11.5" fill="#0000ff" textLength="59" lengthAdjust="spacingAndGlyphs">3022.3000</text>
<text x="956.5" y="160.2" font-size="11.5" fill="#0000ff" textLength="59" lengthAdjust="spacingAndGlyphs">3450.4900</text>
<g shape-rendering="crispEdges">
<rect x="68" y="312" width="1" height="4" fill="#ff0000"/>
<rect x="65" y="316" width="6" height="2" fill="#ff0000"/>
<rect x="75" y="319" width="1" height="11" fill="#ff0000"/>
<rect x="72.5" y="305.5" width="5" height="13" fill="none" stroke="#ff0000"/>
<rect x="82" y="303" width="1" height="4" fill="#008000"/>
<rect x="82" y="309" width="1" height="1" fill="#008000"/>
<rect x="79" y="307" width="6" height="2" fill="#008000"/>
<rect x="89" y="309" width="1" height="7" fill="#ff0000"/>
<rect x="89" y="319" width="1" height="3" fill="#ff0000"/>
<rect x="86.5" y="316.5" width="5" height="2" fill="none" stroke="#ff0000"/>
<rect x="96" y="313" width="1" height="3" fill="#ff0000"/>
<rect x="96" y="317" width="1" height="3" fill="#ff0000"/>
<rect x="93" y="316" width="6" height="1" fill="#ff0000"/>
<rect x="103" y="310" width="1" height="7" fill="#008000"/>
<rect x="103" y="323" width="1" height="6" fill="#008000"/>
<rect x="100" y="317" width="6" height="6" fill="#008000"/>
<rect x="110" y="320" width="1" height="6" fill="#008000"/>
<rect x="110" y="328" width="1" height="6" fill="#008000"/>
<rect x="107" y="326" width="6" height="2" fill="#008000"/>
<rect x="117" y="336" width="1" height="12" fill="#ff0000"/>
<rect x="114.5" y="328.5" width="5" height="7" fill="none" stroke="#ff0000"/>
<rect x="124" y="304" width="1" height="3" fill="#ff0000"/>
<rect x="124" y="332" width="1" height="2" fill="#ff0000"/>
<rect x="121.5" y="307.5" width="5" height="24" fill="none" stroke="#ff0000"/>
<rect x="131" y="301" width="1" height="5" fill="#ff0000"/>
<rect x="128.5" y="306.5" width="5" height="3" fill="none" stroke="#ff0000"/>
<rect x="138" y="291" width="1" height="8" fill="#008000"/>
<rect x="138" y="303" width="1" height="3" fill="#008000"/>
<rect x="135" y="299" width="6" height="4" fill="#008000"/>
<rect x="145" y="306" width="1" height="1" fill="#008000"/>
<rect x="145" y="310" width="1" height="2" fill="#008000"/>
<rect x="142" y="307" width="6" height="3" fill="#008000"/>
<rect x="152" y="306" width="1" height="2" fill="#ff0000"/>
<rect x="152" y="313" width="1" height="7" fill="#ff0000"/>
<rect x="149.5" y="308.5" width="5" height="4" fill="none" stroke="#ff0000"/>
<rect x="159" y="309" width="1" height="1" fill="#008000"/>
<rect x="159" y="315" width="1" height="3" fill="#008000"/>
<rect x="156" y="310" width="6" height="5" fill="#008000"/>
<rect x="166" y="317" width="1" height="4" fill="#ff0000"/>
<rect x="163.5" y="310.5" width="5" height="6" fill="none" stroke="#ff0000"/>
<rect x="173" y="309" width="1" height="3" fill="#ff0000"/>
<rect x="170.5" y="292.5" width="5" height="16" fill="none" stroke="#ff0000"/>
<rect x="180" y="286" width="1" height="1" fill="#ff0000"/>
<rect x="180" y="293" width="1" height="2" fill="#ff0000"/>
<rect x="177.5" y="287.5" width="5" height="5" fill="none" stroke="#ff0000"/>
<rect x="187" y="280" width="1" height="3" fill="#ff0000"/>
<rect x="187" y="287" width="1" height="2" fill="#ff0000"/>
<rect x="184.5" y="283.5" width="5" height="3" fill="none" stroke="#ff0000"/>
<rect x="194" y="281" width="1" height="6" fill="#008000"/>
<rect x="194" y="292" width="1" height="2" fill="#008000"/>
<rect x="191" y="287" width="6" height="5" fill="#008000"/>
<rect x="201" y="284" width="1" height="1" fill="#ff0000"/>
<rect x="198.5" y="285.5" width="5" height="9" fill="none" stroke="#ff0000"/>
<rect x="208" y="289" width="1" height="1" fill="#008000"/>
<rect x="208" y="296" width="1" height="3" fill="#008000"/>
<rect x="205" y="290" width="6" height="6" fill="#008000"/>
<rect x="215" y="293" width="1" height="3" fill="#ff0000"/>
<rect x="215" y="299" width="1" height="5" fill="#ff0000"/>
<rect x="212.5" y="296.5" width="5" height="2" fill="none" stroke="#ff0000"/>
<rect x="222" y="296" width="1" height="2" fill="#008000"/>
<rect x="222" y="300" width="1" height="4" fill="#008000"/>
<rect x="219" y="298" width="6" height="2" fill="#008000"/>
<rect x="229" y="289" width="1" height="1" fill="#ff0000"/>
<rect x="229" y="300" width="1" height="2" fill="#ff0000"/>
<rect x="226.5" y="290.5" width="5" height="9" fill="none" stroke="#ff0000"/>
<rect x="236" y="292" width="1" height="3" fill="#008000"/>
<rect x="233" y="288" width="6" height="4" fill="#008000"/>
<rect x="243" y="288" width="1" height="8" fill="#ff0000"/>
<rect x="240.5" y="284.5" width="5" height="3" fill="none" stroke="#ff0000"/>
<rect x="250" y="271" width="1" height="15" fill="#008000"/>
<rect x="250" y="288" width="1" height="1" fill="#008000"/>
<rect x="247" y="286" width="6" height="2" fill="#008000"/>
<rect x="257" y="294" width="1" height="9" fill="#ff0000"/>
<rect x="254.5" y="283.5" width="5" height="10" fill="none" stroke="#ff0000"/>
<rect x="264" y="269" width="1" height="1" fill="#ff0000"/>
<rect x="264" y="284" width="1" height="1" fill="#ff0000"/>
<rect x="261.5" y="270.5" width="5" height="13" fill="none" stroke="#ff0000"/>
<rect x="271" y="267" width="1" height="1" fill="#ff0000"/>
<rect x="271" y="272" width="1" height="5" fill="#ff0000"/>
<rect x="268.5" y="268.5" width="5" height="3" fill="none" stroke="#ff0000"/>
<rect x="278" y="268" width="1" height="3" fill="#008000"/>
<rect x="278" y="276" width="1" height="1" fill="#008000"/>
<rect x="275" y="271" width="6" height="5" fill="#008000"/>
<rect x="285" y="276" width="1" height="1" fill="#ff0000"/>
<rect x="282.5" y="270.5" width="5" height="5" fill="none" stroke="#ff0000"/>
<rect x="292" y="274" width="1" height="3" fill="#ff0000"/>
<rect x="289.5" y="267.5" width="5" height="6" fill="none" stroke="#ff0000"/>
<rect x="299" y="267" width="1" height="7" fill="#ff0000"/>
<rect x="296" y="265" width="6" height="2" fill="#ff0000"/>
<rect x="306" y="272" width="1" height="5" fill="#008000"/>
<rect x="303" y="267" width="6" height="5" fill="#008000"/>
<rect x="313" y="273" width="1" height="2" fill="#ff0000"/>
<rect x="310.5" y="260.5" width="5" height="12" fill="none" stroke="#ff0000"/>
<rect x="320" y="256" width="1" height="2" fill="#ff0000"/>
<rect x="320" y="262" width="1" height="8" fill="#ff0000"/>
<rect x="317.5" y="258.5" width="5" height="3" fill="none" stroke="#ff0000"/>
<rect x="327" y="254" width="1" height="1" fill="#ff0000"/>
<rect x="327" y="262" width="1" height="4" fill="#ff0000"/>
<rect x="324.5" y="255.5" width="5" height="6" fill="none" stroke="#ff0000"/>
<rect x="334" y="252" width="1" height="5" fill="#ff0000"/>
<rect x="334" y="259" width="1" height="3" fill="#ff0000"/>
<rect x="331" y="257" width="6" height="2" fill="#ff0000"/>
<rect x="341" y="251" width="1" height="11" fill="#ff0000"/>
<rect x="338" y="262" width="6" height="1" fill="#ff0000"/>
<rect x="348" y="257" width="1" height="6" fill="#008000"/>
<rect x="348" y="265" width="1" height="10" fill="#008000"/>
<rect x="345" y="263" width="6" height="2" fill="#008000"/>
<rect x="355" y="254" width="1" height="1" fill="#ff0000"/>
<rect x="355" y="267" width="1" height="1" fill="#ff0000"/>
<rect x="352.5" y="255.5" width="5" height="11" fill="none" stroke="#ff0000"/>
<rect x="362" y="252" width="1" height="1" fill="#ff0000"/>
<rect x="362" y="258" width="1" height="4" fill="#ff0000"/>
<rect x="359.5" y="253.5" width="5" height="4" fill="none" stroke="#ff0000"/>
<rect x="369" y="250" width="1" height="4" fill="#008000"/>
<rect x="369" y="275" width="1" height="14" fill="#008000"/>
<rect x="366" y="254" width="6" height="21" fill="#008000"/>
<rect x="376" y="283" width="1" height="4" fill="#ff0000"/>
<rect x="373.5" y="269.5" width="5" height="13" fill="none" stroke="#ff0000"/>
<rect x="383" y="248" width="1" height="1" fill="#ff0000"/>
<rect x="383" y="273" width="1" height="1" fill="#ff0000"/>
<rect x="380.5" y="249.5" width="5" height="23" fill="none" stroke="#ff0000"/>
<rect x="390" y="241" width="1" height="1" fill="#ff0000"/>
<rect x="387.5" y="242.5" width="5" height="7" fill="none" stroke="#ff0000"/>
<rect x="397" y="241" width="1" height="4" fill="#ff0000"/>
<rect x="397" y="246" width="1" height="2" fill="#ff0000"/>
<rect x="394" y="245" width="6" height="1" fill="#ff0000"/>
<rect x="404" y="234" width="1" height="5" fill="#ff0000"/>
<rect x="401.5" y="239.5" width="5" height="9" fill="none" stroke="#ff0000"/>
<rect x="411" y="235" width="1" height="5" fill="#008000"/>
<rect x="411" y="243" width="1" height="5" fill="#008000"/>
<rect x="408" y="240" width="6" height="3" fill="#008000"/>
<rect x="418" y="233" width="1" height="8" fill="#ff0000"/>
<rect x="418" y="242" width="1" height="8" fill="#ff0000"/>
<rect x="415" y="241" width="6" height="1" fill="#ff0000"/>
<rect x="425" y="239" width="1" height="1" fill="#ff0000"/>
<rect x="425" y="243" width="1" height="11" fill="#ff0000"/>
<rect x="422.5" y="240.5" width="5" height="2" fill="none" stroke="#ff0000"/>
<rect x="432" y="237" width="1" height="1" fill="#ff0000"/>
<rect x="432" y="243" width="1" height="5" fill="#ff0000"/>
<rect x="429.5" y="238.5" width="5" height="4" fill="none" stroke="#ff0000"/>
<rect x="439" y="227" width="1" height="2" fill="#ff0000"/>
<rect x="436.5" y="229.5" width="5" height="8" fill="none" stroke="#ff0000"/>
<rect x="443.5" y="219.5" width="5" height="7" fill="none" stroke="#ff0000"/>
<rect x="453" y="214" width="1" height="7" fill="#008000"/>
<rect x="450" y="221" width="6" height="2" fill="#008000"/>
<rect x="460" y="220" width="1" height="5" fill="#008000"/>
<rect x="460" y="229" width="1" height="5" fill="#008000"/>
<rect x="457" y="225" width="6" height="4" fill="#008000"/>
<rect x="467" y="223" width="1" height="7" fill="#008000"/>
<rect x="464" y="230" width="6" height="4" fill="#008000"/>
<rect x="474" y="235" width="1" height="8" fill="#ff0000"/>
<rect x="471.5" y="226.5" width="5" height="8" fill="none" stroke="#ff0000"/>
<rect x="481" y="223" width="1" height="1" fill="#ff0000"/>
<rect x="481" y="227" width="1" height="3" fill="#ff0000"/>
<rect x="478.5" y="224.5" width="5" height="2" fill="none" stroke="#ff0000"/>
<rect x="488" y="227" width="1" height="6" fill="#008000"/>
<rect x="485" y="226" width="6" height="1" fill="#008000"/>
<rect x="495" y="225" width="1" height="5" fill="#008000"/>
<rect x="495" y="234" width="1" height="12" fill="#008000"/>
<rect x="492" y="230" width="6" height="4" fill="#008000"/>
<rect x="502" y="243" width="1" height="2" fill="#008000"/>
<rect x="502" y="259" width="1" height="4" fill="#008000"/>
<rect x="499" y="245" width="6" height="14" fill="#008000"/>
<rect x="509" y="244" width="1" height="2" fill="#ff0000"/>
<rect x="506.5" y="246.5" width="5" height="13" fill="none" stroke="#ff0000"/>
<rect x="516" y="233" width="1" height="7" fill="#ff0000"/>
<rect x="513.5" y="240.5" width="5" height="5" fill="none" stroke="#ff0000"/>
<rect x="523" y="242" width="1" height="7" fill="#008000"/>
<rect x="520" y="241" width="6" height="1" fill="#008000"/>
<rect x="527.5" y="232.5" width="5" height="5" fill="none" stroke="#ff0000"/>
<rect x="537" y="228" width="1" height="4" fill="#ff0000"/>
<rect x="537" y="238" width="1" height="2" fill="#ff0000"/>
<rect x="534.5" y="232.5" width="5" height="5" fill="none" stroke="#ff0000"/>
<rect x="541.5" y="223.5" width="5" height="4" fill="none" stroke="#ff0000"/>
<rect x="551" y="219" width="1" height="1" fill="#ff0000"/>
<rect x="551" y="221" width="1" height="6" fill="#ff0000"/>
<rect x="548" y="220" width="6" height="1" fill="#ff0000"/>
<rect x="558" y="216" width="1" height="7" fill="#ff0000"/>
<rect x="558" y="224" width="1" height="3" fill="#ff0000"/>
<rect x="555" y="223" width="6" height="1" fill="#ff0000"/>
<rect x="565" y="218" width="1" height="4" fill="#008000"/>
<rect x="565" y="228" width="1" height="4" fill="#008000"/>
<rect x="562" y="222" width="6" height="6" fill="#008000"/>
<rect x="569.5" y="201.5" width="5" height="26" fill="none" stroke="#ff0000"/>
<rect x="579" y="180" width="1" height="7" fill="#ff0000"/>
<rect x="576.5" y="187.5" width="5" height="10" fill="none" stroke="#ff0000"/>
<rect x="586" y="180" width="1" height="5" fill="#ff0000"/>
<rect x="586" y="186" width="1" height="3" fill="#ff0000"/>
<rect x="583" y="185" width="6" height="1" fill="#ff0000"/>
<rect x="593" y="179" width="1" height="8" fill="#ff0000"/>
<rect x="590" y="187" width="6" height="1" fill="#ff0000"/>
<rect x="600" y="185" width="1" height="1" fill="#008000"/>
<rect x="600" y="187" width="1" height="9" fill="#008000"/>
<rect x="597" y="186" width="6" height="1" fill="#008000"/>
<rect x="607" y="177" width="1" height="8" fill="#ff0000"/>
<rect x="607" y="186" width="1" height="2" fill="#ff0000"/>
<rect x="604" y="185" width="6" height="1" fill="#ff0000"/>
<rect x="614" y="177" width="1" height="1" fill="#ff0000"/>
<rect x="614" y="182" width="1" height="6" fill="#ff0000"/>
<rect x="611.5" y="178.5" width="5" height="3" fill="none" stroke="#ff0000"/>
<rect x="621" y="173" width="1" height="3" fill="#ff0000"/>
<rect x="618.5" y="176.5" width="5" height="3" fill="none" stroke="#ff0000"/>
<rect x="628" y="172" width="1" height="3" fill="#ff0000"/>
<rect x="628" y="180" width="1" height="5" fill="#ff0000"/>
<rect x="625.5" y="175.5" width="5" height="4" fill="none" stroke="#ff0000"/>
<rect x="635" y="175" width="1" height="2" fill="#008000"/>
<rect x="632" y="177" width="6" height="8" fill="#008000"/>
<rect x="642" y="177" width="1" height="8" fill="#ff0000"/>
<rect x="642" y="186" width="1" height="3" fill="#ff0000"/>
<rect x="639" y="185" width="6" height="1" fill="#ff0000"/>
<rect x="649" y="175" width="1" height="4" fill="#ff0000"/>
<rect x="646.5" y="179.5" width="5" height="5" fill="none" stroke="#ff0000"/>
<rect x="656" y="173" width="1" height="4" fill="#008000"/>
<rect x="656" y="178" width="1" height="3" fill="#008000"/>
<rect x="653" y="177" width="6" height="1" fill="#008000"/>
<rect x="663" y="174" width="1" height="1" fill="#ff0000"/>
<rect x="663" y="179" width="1" height="4" fill="#ff0000"/>
<rect x="660.5" y="175.5" width="5" height="3" fill="none" stroke="#ff0000"/>
<rect x="670" y="173" width="1" height="3" fill="#008000"/>
<rect x="670" y="182" width="1" height="5" fill="#008000"/>
<rect x="667" y="176" width="6" height="6" fill="#008000"/>
<rect x="677" y="190" width="1" height="4" fill="#008000"/>
<rect x="674" y="185" width="6" height="5" fill="#008000"/>
<rect x="684" y="182" width="1" height="4" fill="#ff0000"/>
<rect x="681.5" y="186.5" width="5" height="4" fill="none" stroke="#ff0000"/>
<rect x="691" y="183" width="1" height="2" fill="#008000"/>
<rect x="691" y="189" width="1" height="6" fill="#008000"/>
<rect x="688" y="185" width="6" height="4" fill="#008000"/>
<rect x="698" y="182" width="1" height="2" fill="#ff0000"/>
<rect x="698" y="191" width="1" height="3" fill="#ff0000"/>
<rect x="695.5" y="184.5" width="5" height="6" fill="none" stroke="#ff0000"/>
<rect x="705" y="180" width="1" height="5" fill="#008000"/>
<rect x="702" y="185" width="6" height="3" fill="#008000"/>
<rect x="712" y="189" width="1" height="2" fill="#ff0000"/>
<rect x="712" y="192" width="1" height="7" fill="#ff0000"/>
<rect x="709" y="191" width="6" height="1" fill="#ff0000"/>
<rect x="719" y="193" width="1" height="2" fill="#008000"/>
<rect x="719" y="196" width="1" height="3" fill="#008000"/>
<rect x="716" y="195" width="6" height="1" fill="#008000"/>
<rect x="726" y="193" width="1" height="2" fill="#ff0000"/>
<rect x="723.5" y="195.5" width="5" height="3" fill="none" stroke="#ff0000"/>
<rect x="733" y="192" width="1" height="2" fill="#ff0000"/>
<rect x="733" y="195" width="1" height="2" fill="#ff0000"/>
<rect x="730" y="194" width="6" height="1" fill="#ff0000"/>
<rect x="740" y="196" width="1" height="3" fill="#008000"/>
<rect x="737" y="195" width="6" height="1" fill="#008000"/>
<rect x="747" y="189" width="1" height="4" fill="#ff0000"/>
<rect x="744.5" y="193.5" width="5" height="3" fill="none" stroke="#ff0000"/>
<rect x="754" y="164" width="1" height="3" fill="#008000"/>
<rect x="754" y="180" width="1" height="4" fill="#008000"/>
<rect x="751" y="167" width="6" height="13" fill="#008000"/>
<rect x="761" y="180" width="1" height="8" fill="#ff0000"/>
<rect x="758.5" y="176.5" width="5" height="3" fill="none" stroke="#ff0000"/>
<rect x="768" y="170" width="1" height="4" fill="#ff0000"/>
<rect x="768" y="176" width="1" height="2" fill="#ff0000"/>
<rect x="765" y="174" width="6" height="2" fill="#ff0000"/>
<rect x="775" y="173" width="1" height="2" fill="#ff0000"/>
<rect x="775" y="176" width="1" height="5" fill="#ff0000"/>
<rect x="772" y="175" width="6" height="1" fill="#ff0000"/>
<rect x="782" y="170" width="1" height="3" fill="#ff0000"/>
<rect x="779.5" y="173.5" width="5" height="2" fill="none" stroke="#ff0000"/>
<rect x="789" y="169" width="1" height="2" fill="#008000"/>
<rect x="789" y="178" width="1" height="2" fill="#008000"/>
<rect x="786" y="171" width="6" height="7" fill="#008000"/>
<rect x="796" y="178" width="1" height="3" fill="#008000"/>
<rect x="796" y="182" width="1" height="2" fill="#008000"/>
<rect x="793" y="181" width="6" height="1" fill="#008000"/>
<rect x="803" y="176" width="1" height="1" fill="#ff0000"/>
<rect x="800.5" y="177.5" width="5" height="2" fill="none" stroke="#ff0000"/>
<rect x="810" y="179" width="1" height="1" fill="#008000"/>
<rect x="810" y="181" width="1" height="5" fill="#008000"/>
<rect x="807" y="180" width="6" height="1" fill="#008000"/>
<rect x="814.5" y="178.5" width="5" height="7" fill="none" stroke="#ff0000"/>
<rect x="824" y="176" width="1" height="1" fill="#008000"/>
<rect x="824" y="178" width="1" height="2" fill="#008000"/>
<rect x="821" y="177" width="6" height="1" fill="#008000"/>
<rect x="831" y="178" width="1" height="3" fill="#ff0000"/>
<rect x="828.5" y="174.5" width="5" height="3" fill="none" stroke="#ff0000"/>
<rect x="838" y="169" width="1" height="1" fill="#ff0000"/>
<rect x="838" y="174" width="1" height="3" fill="#ff0000"/>
<rect x="835.5" y="170.5" width="5" height="3" fill="none" stroke="#ff0000"/>
<rect x="845" y="161" width="1" height="4" fill="#ff0000"/>
<rect x="845" y="168" width="1" height="4" fill="#ff0000"/>
<rect x="842.5" y="165.5" width="5" height="2" fill="none" stroke="#ff0000"/>
<rect x="852" y="158" width="1" height="2" fill="#ff0000"/>
<rect x="849.5" y="160.5" width="5" height="5" fill="none" stroke="#ff0000"/>
<rect x="859" y="160" width="1" height="2" fill="#008000"/>
<rect x="859" y="173" width="1" height="17" fill="#008000"/>
<rect x="856" y="162" width="6" height="11" fill="#008000"/>
<rect x="866" y="170" width="1" height="1" fill="#ff0000"/>
<rect x="866" y="176" width="1" height="4" fill="#ff0000"/>
<rect x="863.5" y="171.5" width="5" height="4" fill="none" stroke="#ff0000"/>
<rect x="873" y="163" width="1" height="7" fill="#ff0000"/>
<rect x="873" y="171" width="1" height="3" fill="#ff0000"/>
<rect x="870" y="170" width="6" height="1" fill="#ff0000"/>
<rect x="880" y="176" width="1" height="5" fill="#008000"/>
<rect x="877" y="172" width="6" height="4" fill="#008000"/>
<rect x="887" y="178" width="1" height="1" fill="#008000"/>
<rect x="887" y="182" width="1" height="11" fill="#008000"/>
<rect x="884" y="179" width="6" height="3" fill="#008000"/>
<rect x="894" y="173" width="1" height="1" fill="#ff0000"/>
<rect x="894" y="182" width="1" height="7" fill="#ff0000"/>
<rect x="891.5" y="174.5" width="5" height="7" fill="none" stroke="#ff0000"/>
<rect x="901" y="161" width="1" height="1" fill="#ff0000"/>
<rect x="898.5" y="162.5" width="5" height="10" fill="none" stroke="#ff0000"/>
<rect x="908" y="152" width="1" height="9" fill="#ff0000"/>
<rect x="905.5" y="161.5" width="5" height="2" fill="none" stroke="#ff0000"/>
<rect x="912.5" y="155.5" width="5" height="7" fill="none" stroke="#ff0000"/>
<rect x="922" y="150" width="1" height="3" fill="#ff0000"/>
<rect x="922" y="156" width="1" height="4" fill="#ff0000"/>
<rect x="919.5" y="153.5" width="5" height="2" fill="none" stroke="#ff0000"/>
<rect x="926.5" y="145.5" width="5" height="5" fill="none" stroke="#ff0000"/>
<rect x="936" y="144" width="1" height="2" fill="#008000"/>
<rect x="936" y="154" width="1" height="5" fill="#008000"/>
<rect x="933" y="146" width="6" height="8" fill="#008000"/>
<rect x="943" y="158" width="1" height="2" fill="#008000"/>
<rect x="943" y="167" width="1" height="3" fill="#008000"/>
<rect x="940" y="160" width="6" height="7" fill="#008000"/>
<rect x="950" y="164" width="1" height="5" fill="#ff0000"/>
<rect x="950" y="170" width="1" height="3" fill="#ff0000"/>
<rect x="947" y="169" width="6" height="1" fill="#ff0000"/>
<rect x="957" y="168" width="1" height="4" fill="#008000"/>
<rect x="957" y="175" width="1" height="6" fill="#008000"/>
<rect x="954" y="172" width="6" height="3" fill="#008000"/>
<rect x="964" y="171" width="1" height="2" fill="#ff0000"/>
<rect x="964" y="186" width="1" height="12" fill="#ff0000"/>
<rect x="961.5" y="173.5" width="5" height="12" fill="none" stroke="#ff0000"/>
<rect x="971" y="160" width="1" height="3" fill="#ff0000"/>
<rect x="971" y="176" width="1" height="3" fill="#ff0000"/>
<rect x="968.5" y="163.5" width="5" height="12" fill="none" stroke="#ff0000"/>
<rect x="978" y="148" width="1" height="6" fill="#ff0000"/>
<rect x="978" y="159" width="1" height="6" fill="#ff0000"/>
<rect x="975.5" y="154.5" width="5" height="4" fill="none" stroke="#ff0000"/>
<rect x="985" y="155" width="1" height="1" fill="#008000"/>
<rect x="985" y="190" width="1" height="6" fill="#008000"/>
<rect x="982" y="156" width="6" height="34" fill="#008000"/>
<rect x="992" y="187" width="1" height="3" fill="#ff0000"/>
<rect x="992" y="197" width="1" height="5" fill="#ff0000"/>
<rect x="989.5" y="190.5" width="5" height="6" fill="none" stroke="#ff0000"/>
<rect x="999" y="205" width="1" height="4" fill="#008000"/>
<rect x="996" y="194" width="6" height="11" fill="#008000"/>
<rect x="1006" y="210" width="1" height="4" fill="#ff0000"/>
<rect x="1003.5" y="200.5" width="5" height="9" fill="none" stroke="#ff0000"/>
<rect x="1013" y="195" width="1" height="3" fill="#ff0000"/>
<rect x="1013" y="199" width="1" height="14" fill="#ff0000"/>
<rect x="1010" y="198" width="6" height="1" fill="#ff0000"/>
<rect x="1020" y="197" width="1" height="5" fill="#008000"/>
<rect x="1020" y="208" width="1" height="5" fill="#008000"/>
<rect x="1017" y="202" width="6" height="6" fill="#008000"/>
<rect x="65.5" y="483.5" width="5" height="31" fill="none" stroke="#ff0000"/>
<rect x="72.5" y="474.5" width="5" height="40" fill="none" stroke="#ff0000"/>
<rect x="79" y="476" width="6" height="39" fill="#008000"/>
<rect x="86.5" y="480.5" width="5" height="34" fill="none" stroke="#ff0000"/>
<rect x="93.5" y="485.5" width="5" height="29" fill="none" stroke="#ff0000"/>
<rect x="100" y="479" width="6" height="36" fill="#008000"/>
<rect x="107" y="473" width="6" height="42" fill="#008000"/>
<rect x="114.5" y="482.5" width="5" height="32" fill="none" stroke="#ff0000"/>
<rect x="121.5" y="470.5" width="5" height="44" fill="none" stroke="#ff0000"/>
<rect x="128.5" y="479.5" width="5" height="35" fill="none" stroke="#ff0000"/>
<rect x="135" y="479" width="6" height="36" fill="#008000"/>
<rect x="142" y="477" width="6" height="38" fill="#008000"/>
<rect x="149.5" y="482.5" width="5" height="32" fill="none" stroke="#ff0000"/>
<rect x="156" y="484" width="6" height="31" fill="#008000"/>
<rect x="163.5" y="488.5" width="5" height="26" fill="none" stroke="#ff0000"/>
<rect x="170.5" y="475.5" width="5" height="39" fill="none" stroke="#ff0000"/>
<rect x="177.5" y="479.5" width="5" height="35" fill="none" stroke="#ff0000"/>
<rect x="184.5" y="478.5" width="5" height="36" fill="none" stroke="#ff0000"/>
<rect x="191" y="481" width="6" height="34" fill="#008000"/>
<rect x="198.5" y="485.5" width="5" height="29" fill="none" stroke="#ff0000"/>
<rect x="205" y="483" width="6" height="32" fill="#008000"/>
<rect x="212.5" y="481.5" width="5" height="33" fill="none" stroke="#ff0000"/>
<rect x="219" y="485" width="6" height="30" fill="#008000"/>
<rect x="226.5" y="483.5" width="5" height="31" fill="none" stroke="#ff0000"/>
<rect x="233" y="482" width="6" height="33" fill="#008000"/>
<rect x="240.5" y="483.5" width="5" height="31" fill="none" stroke="#ff0000"/>
<rect x="247" y="470" width="6" height="45" fill="#008000"/>
<rect x="254.5" y="479.5" width="5" height="35" fill="none" stroke="#ff0000"/>
<rect x="261.5" y="474.5" width="5" height="40" fill="none" stroke="#ff0000"/>
<rect x="268.5" y="480.5" width="5" height="34" fill="none" stroke="#ff0000"/>
<rect x="275" y="481" width="6" height="34" fill="#008000"/>
<rect x="282.5" y="485.5" width="5" height="29" fill="none" stroke="#ff0000"/>
<rect x="289.5" y="487.5" width="5" height="27" fill="none" stroke="#ff0000"/>
<rect x="296.5" y="482.5" width="5" height="32" fill="none" stroke="#ff0000"/>
<rect x="303" y="482" width="6" height="33" fill="#008000"/>
<rect x="310.5" y="480.5" width="5" height="34" fill="none" stroke="#ff0000"/>
<rect x="317.5" y="474.5" width="5" height="40" fill="none" stroke="#ff0000"/>
<rect x="324.5" y="474.5" width="5" height="40" fill="none" stroke="#ff0000"/>
<rect x="331.5" y="469.5" width="5" height="45" fill="none" stroke="#ff0000"/>
<rect x="338.5" y="471.5" width="5" height="43" fill="none" stroke="#ff0000"/>
<rect x="345" y="471" width="6" height="44" fill="#008000"/>
<rect x="352.5" y="469.5" width="5" height="45" fill="none" stroke="#ff0000"/>
<rect x="359.5" y="478.5" width="5" height="36" fill="none" stroke="#ff0000"/>
<rect x="366" y="453" width="6" height="62" fill="#008000"/>
<rect x="373.5" y="470.5" width="5" height="44" fill="none" stroke="#ff0000"/>
<rect x="380.5" y="451.5" width="5" height="63" fill="none" stroke="#ff0000"/>
<rect x="387.5" y="461.5" width="5" height="53" fill="none" stroke="#ff0000"/>
<rect x="394.5" y="467.5" width="5" height="47" fill="none" stroke="#ff0000"/>
<rect x="401.5" y="461.5" width="5" height="53" fill="none" stroke="#ff0000"/>
<rect x="408" y="467" width="6" height="48" fill="#008000"/>
<rect x="415.5" y="465.5" width="5" height="49" fill="none" stroke="#ff0000"/>
<rect x="422.5" y="462.5" width="5" height="52" fill="none" stroke="#ff0000"/>
<rect x="429.5" y="472.5" width="5" height="42" fill="none" stroke="#ff0000"/>
<rect x="436.5" y="458.5" width="5" height="56" fill="none" stroke="#ff0000"/>
<rect x="443.5" y="460.5" width="5" height="54" fill="none" stroke="#ff0000"/>
<rect x="450" y="453" width="6" height="62" fill="#008000"/>
<rect x="457" y="460" width="6" height="55" fill="#008000"/>
<rect x="464" y="451" width="6" height="64" fill="#008000"/>
<rect x="471.5" y="461.5" width="5" height="53" fill="none" stroke="#ff0000"/>
<rect x="478.5" y="456.5" width="5" height="58" fill="none" stroke="#ff0000"/>
<rect x="485" y="460" width="6" height="55" fill="#008000"/>
<rect x="492" y="459" width="6" height="56" fill="#008000"/>
<rect x="499" y="454" width="6" height="61" fill="#008000"/>
<rect x="506.5" y="471.5" width="5" height="43" fill="none" stroke="#ff0000"/>
<rect x="513.5" y="472.5" width="5" height="42" fill="none" stroke="#ff0000"/>
<rect x="520" y="474" width="6" height="41" fill="#008000"/>
<rect x="527.5" y="467.5" width="5" height="47" fill="none" stroke="#ff0000"/>
<rect x="534.5" y="470.5" width="5" height="44" fill="none" stroke="#ff0000"/>
<rect x="541.5" y="472.5" width="5" height="42" fill="none" stroke="#ff0000"/>
<rect x="548.5" y="471.5" width="5" height="43" fill="none" stroke="#ff0000"/>
<rect x="555.5" y="473.5" width="5" height="41" fill="none" stroke="#ff0000"/>
<rect x="562" y="477" width="6" height="38" fill="#008000"/>
<rect x="569.5" y="467.5" width="5" height="47" fill="none" stroke="#ff0000"/>
<rect x="576.5" y="455.5" width="5" height="59" fill="none" stroke="#ff0000"/>
<rect x="583.5" y="464.5" width="5" height="50" fill="none" stroke="#ff0000"/>
<rect x="590.5" y="457.5" width="5" height="57" fill="none" stroke="#ff0000"/>
<rect x="597" y="460" width="6" height="55" fill="#008000"/>
<rect x="604.5" y="449.5" width="5" height="65" fill="none" stroke="#ff0000"/>
<rect x="611.5" y="453.5" width="5" height="61" fill="none" stroke="#ff0000"/>
<rect x="618.5" y="464.5" width="5" height="50" fill="none" stroke="#ff0000"/>
<rect x="625.5" y="461.5" width="5" height="53" fill="none" stroke="#ff0000"/>
<rect x="632" y="463" width="6" height="52" fill="#008000"/>
<rect x="639.5" y="469.5" width="5" height="45" fill="none" stroke="#ff0000"/>
<rect x="646.5" y="464.5" width="5" height="50" fill="none" stroke="#ff0000"/>
<rect x="653" y="451" width="6" height="64" fill="#008000"/>
<rect x="660.5" y="470.5" width="5" height="44" fill="none" stroke="#ff0000"/>
<rect x="667" y="463" width="6" height="52" fill="#008000"/>
<rect x="674" y="464" width="6" height="51" fill="#008000"/>
<rect x="681.5" y="471.5" width="5" height="43" fill="none" stroke="#ff0000"/>
<rect x="688" y="470" width="6" height="45" fill="#008000"/>
<rect x="695.5" y="470.5" width="5" height="44" fill="none" stroke="#ff0000"/>
<rect x="702" y="469" width="6" height="46" fill="#008000"/>
<rect x="709.5" y="473.5" width="5" height="41" fill="none" stroke="#ff0000"/>
<rect x="716" y="475" width="6" height="40" fill="#008000"/>
<rect x="723.5" y="484.5" width="5" height="30" fill="none" stroke="#ff0000"/>
<rect x="730.5" y="482.5" width="5" height="32" fill="none" stroke="#ff0000"/>
<rect x="737" y="480" width="6" height="35" fill="#008000"/>
<rect x="744.5" y="481.5" width="5" height="33" fill="none" stroke="#ff0000"/>
<rect x="751" y="470" width="6" height="45" fill="#008000"/>
<rect x="758.5" y="473.5" width="5" height="41" fill="none" stroke="#ff0000"/>
<rect x="765.5" y="473.5" width="5" height="41" fill="none" stroke="#ff0000"/>
<rect x="772.5" y="477.5" width="5" height="37" fill="none" stroke="#ff0000"/>
<rect x="779.5" y="482.5" width="5" height="32" fill="none" stroke="#ff0000"/>
<rect x="786" y="474" width="6" height="41" fill="#008000"/>
<rect x="793" y="486" width="6" height="29" fill="#008000"/>
<rect x="800.5" y="478.5" width="5" height="36" fill="none" stroke="#ff0000"/>
<rect x="807" y="478" width="6" height="37" fill="#008000"/>
<rect x="814.5" y="485.5" width="5" height="29" fill="none" stroke="#ff0000"/>
<rect x="821" y="484" width="6" height="31" fill="#008000"/>
<rect x="828.5" y="482.5" width="5" height="32" fill="none" stroke="#ff0000"/>
<rect x="835.5" y="486.5" width="5" height="28" fill="none" stroke="#ff0000"/>
<rect x="842.5" y="472.5" width="5" height="42" fill="none" stroke="#ff0000"/>
<rect x="849.5" y="475.5" width="5" height="39" fill="none" stroke="#ff0000"/>
<rect x="856" y="466" width="6" height="49" fill="#008000"/>
<rect x="863.5" y="479.5" width="5" height="35" fill="none" stroke="#ff0000"/>
<rect x="870.5" y="473.5" width="5" height="41" fill="none" stroke="#ff0000"/>
<rect x="877" y="476" width="6" height="39" fill="#008000"/>
<rect x="884" y="475" width="6" height="40" fill="#008000"/>
<rect x="891.5" y="479.5" width="5" height="35" fill="none" stroke="#ff0000"/>
<rect x="898.5" y="470.5" width="5" height="44" fill="none" stroke="#ff0000"/>
<rect x="905.5" y="472.5" width="5" height="42" fill="none" stroke="#ff0000"/>
<rect x="912.5" y="478.5" width="5" height="36" fill="none" stroke="#ff0000"/>
<rect x="919.5" y="471.5" width="5" height="43" fill="none" stroke="#ff0000"/>
<rect x="926.5" y="467.5" width="5" height="47" fill="none" stroke="#ff0000"/>
<rect x="933" y="469" width="6" height="46" fill="#008000"/>
<rect x="940" y="476" width="6" height="39" fill="#008000"/>
<rect x="947.5" y="478.5" width="5" height="36" fill="none" stroke="#ff0000"/>
<rect x="954" y="457" width="6" height="58" fill="#008000"/>
<rect x="961.5" y="474.5" width="5" height="40" fill="none" stroke="#ff0000"/>
<rect x="968.5" y="469.5" width="5" height="45" fill="none" stroke="#ff0000"/>
<rect x="975.5" y="465.5" width="5" height="49" fill="none" stroke="#ff0000"/>
<rect x="982" y="465" width="6" height="50" fill="#008000"/>
<rect x="989.5" y="478.5" width="5" height="36" fill="none" stroke="#ff0000"/>
<rect x="996" y="476" width="6" height="39" fill="#008000"/>
<rect x="1003.5" y="483.5" width="5" height="31" fill="none" stroke="#ff0000"/>
<rect x="1010.5" y="472.5" width="5" height="42" fill="none" stroke="#ff0000"/>
<rect x="1017" y="478" width="6" height="37" fill="#008000"/>
</g>
<defs><clipPath id="mc"><rect x="65" y="66" width="1169" height="383"/></clipPath></defs>
<g clip-path="url(#mc)" shape-rendering="crispEdges" fill="none" stroke-width="1">
<polyline points="68.0,161.4 75.8,160.1 84.3,161.8 100.0,164.3 114.6,165.0 125.5,163.3 135.2,164.5 145.0,168.4 159.5,170.3 171.7,172.8 186.2,176.4 198.3,178.1 215.3,181.7 222.6,184.4 239.6,188.0 249.3,189.5 266.3,189.8 283.3,193.9 296.7,196.3 312.4,197.3 324.6,195.6 335.5,197.3 351.3,193.4 362.1,193.4 369.4,187.6 376.7,185.9 384.0,182.2 393.7,182.7 398.5,183.0 410.7,179.3 432.5,175.0 439.8,172.5 449.5,172.0 461.7,169.4 469.0,170.3 473.8,167.7 488.3,166.7 502.9,160.4 515.0,157.5 534.5,155.5 553.9,152.6 561.2,150.2 578.2,141.0 590.3,138.5 604.9,136.8 619.4,133.2 629.1,128.8 641.3,125.4 652.1,122.9 664.3,120.2 674.0,117.6 688.5,115.1 704.3,113.2 712.8,116.1 725.0,118.1 737.1,117.8 749.2,116.4 758.9,114.4 773.5,113.7 790.5,111.3 805.0,112.5 817.2,112.5 831.7,110.5 846.3,111.3 853.6,109.6 860.9,106.4 873.0,103.5 885.1,100.8 897.3,97.9 907.0,96.2 916.7,98.4 928.8,98.4 939.9,96.7 954.8,95.5 964.7,92.3 977.0,90.3 984.5,85.6 994.4,84.9 1004.3,84.1 1019.1,83.6 1029.0,86.1 1041.4,89.3 1053.8,92.8 1073.6,96.7 1086.0,98.0 1100.8,104.7 1115.7,108.4 1135.5,114.1 1152.8,118.3 1167.7,122.0 1182.5,125.7 1192.4,129.4 1202.3,134.9 1214.7,139.3 1230.0,145.5" stroke="#ff0000"/>
<polyline points="68.0,210.4 75.8,209.4 84.3,210.6 100.0,214.0 111.0,214.5 118.3,216.2 128.0,217.0 140.0,218.9 157.0,222.5 171.7,225.4 186.2,228.6 200.8,231.0 215.3,233.4 230.0,236.6 244.5,238.3 251.7,240.2 266.3,241.0 283.3,244.4 296.7,245.3 315.0,245.3 327.0,243.4 335.5,244.4 350.0,242.2 362.1,241.5 369.4,237.8 381.6,235.4 398.5,232.5 415.5,229.3 435.0,225.2 444.7,222.0 456.8,219.6 476.2,216.0 488.3,213.5 500.5,209.2 519.9,206.3 544.2,202.6 558.7,199.7 568.4,196.6 578.2,192.2 592.7,188.1 617.0,182.0 636.4,177.1 652.1,172.4 664.3,170.0 676.4,166.6 688.5,164.2 704.3,161.5 712.8,163.4 729.8,161.7 744.4,160.5 756.5,158.3 773.5,156.4 790.5,154.2 809.9,152.5 829.3,151.3 846.3,149.6 853.6,148.2 860.9,145.2 873.0,142.8 894.8,139.2 907.0,136.3 942.4,134.9 954.8,133.6 969.6,131.2 984.5,128.4 999.3,128.2 1022.8,128.4 1034.0,130.2 1048.8,133.1 1061.2,134.9 1078.6,136.8 1098.4,141.1 1123.1,145.5 1142.9,149.2 1167.7,153.7 1185.0,156.7 1202.3,162.3 1214.7,164.1 1230.0,168.3" stroke="#0000ff"/>
<polyline points="68.0,263.3 79.4,265.3 96.4,268.9 118.3,273.1 132.8,276.2 157.1,281.1 181.4,285.9 205.6,289.3 229.9,293.2 251.7,297.3 268.7,300.2 307.6,300.2 327.0,297.6 350.0,296.0 381.6,292.6 393.7,289.0 418.0,283.9 435.0,281.0 447.1,276.7 471.4,270.0 495.6,264.7 524.8,259.9 544.2,256.7 568.4,251.8 580.6,248.2 604.9,240.9 624.3,234.9 640.0,232.2 654.6,228.1 676.4,223.7 688.5,220.3 708.0,216.5 720.1,213.1 741.9,209.9 761.4,206.3 785.6,202.6 809.9,199.7 829.3,197.0 848.7,192.2 870.6,188.1 887.6,185.1 907.0,181.5 921.6,179.6 944.9,177.0 959.7,176.0 979.5,176.0 994.4,176.5 1029.0,178.2 1066.2,180.9 1103.3,183.4 1140.4,186.4 1177.6,188.8 1202.3,191.8 1230.0,195.2" stroke="#000000"/>
<polyline points="68.0,338.1 72.1,340.7 84.3,342.7 103.7,347.3 118.3,350.7 125.5,356.5 145.0,358.2 171.7,365.0 193.5,368.4 215.3,369.1 234.8,372.3 251.7,374.7 263.9,378.1 280.9,378.1 295.4,375.9 307.6,375.2 317.3,372.8 327.0,372.3 334.3,369.1 350.0,369.3 362.1,367.1 369.4,370.0 384.0,370.0 398.5,363.3 408.3,361.6 439.8,355.0 454.4,348.9 466.5,343.3 488.3,338.5 505.3,338.5 519.9,334.9 536.9,332.4 551.5,328.3 563.6,326.4 580.6,326.4 600.0,316.7 619.4,310.8 640.0,307.6 652.1,304.0 669.1,299.6 688.5,294.8 705.5,291.1 710.4,287.5 726.2,279.7 749.2,274.2 780.8,266.5 795.3,265.2 805.0,262.1 831.7,257.2 846.3,250.4 858.4,248.7 877.9,245.1 897.3,244.6 907.0,242.2 916.7,238.3 931.3,236.6 949.8,235.6 962.2,238.0 974.6,238.8 984.5,242.2 996.8,244.2 1016.7,247.2 1024.1,247.2 1034.0,245.5 1053.8,243.0 1078.6,241.8 1090.9,240.5 1108.3,238.5 1135.5,237.5 1157.8,236.3 1177.6,236.3 1194.9,236.1 1202.3,233.6 1214.7,232.3 1230.0,231.4" stroke="#0000ff"/>
<polyline points="68.5,404.3 74.6,408.7 84.3,410.9 89.1,412.8 101.3,415.2 111.0,419.6 118.3,421.3 125.5,428.1 132.8,429.3 137.7,432.2 145.0,430.5 166.8,436.4 174.1,437.6 183.8,437.8 193.5,440.0 203.2,440.0 208.1,439.0 215.3,440.0 222.6,439.0 234.8,442.4 246.9,443.9 256.6,447.3 263.9,449.7 276.0,448.5 293.0,444.4 317.3,439.5 327.0,439.0 334.3,434.2 341.6,433.9 348.8,436.4 356.1,436.1 362.1,433.6 369.4,439.2 376.7,439.2 384.0,441.2 398.5,431.5 410.7,430.0 418.0,427.1 427.7,426.4 439.8,423.4 459.2,414.5 468.9,408.2 476.2,407.7 488.3,403.3 498.1,405.2 507.8,405.2 517.5,402.1 529.6,400.4 549.0,394.3 556.3,393.1 566.0,393.6 573.3,395.0 580.6,395.0 602.4,384.6 619.4,379.8 634.0,376.6 647.3,374.9 657.0,370.2 666.7,368.3 683.7,364.7 693.4,360.5 705.5,358.1 712.8,348.9 720.1,346.0 727.4,339.9 746.8,334.3 756.5,333.6 771.1,328.3 783.2,324.1 792.9,323.4 805.0,319.3 812.3,318.1 819.6,314.9 831.7,313.2 841.5,306.4 852.4,301.1 859.7,303.3 870.6,301.6 880.3,299.6 885.1,300.3 897.3,300.3 907.0,298.4 914.3,293.5 924.0,289.4 947.3,289.5 952.3,288.3 957.2,289.5 964.7,293.2 977.0,295.0 984.5,300.7 1001.8,305.6 1020.4,309.3 1029.0,306.8 1043.9,302.4 1058.7,299.4 1071.1,297.4 1088.5,295.7 1100.8,290.3 1115.7,287.5 1138.0,283.3 1160.3,280.1 1177.6,278.4 1194.9,276.4 1202.3,270.5 1217.2,267.2 1230.0,263.0" stroke="#ff0000"/>
</g>
<polygon points="338,453 345,453 341.5,449" fill="#000"/>
<text x="-5" y="69.5" font-size="13" fill="#0000ff" stroke="#0000ff" stroke-width="0.12">日<tspan font-family="Liberation Serif" font-size="12">K</tspan>线</text>
<text x="66" y="77.5" font-size="12.5" fill="#000" stroke="#000" stroke-width="0.12" textLength="50.5" lengthAdjust="spacingAndGlyphs">极反通道</text>
<text x="136.5" y="78.5" font-size="12" fill="#ff0000" textLength="70" lengthAdjust="spacingAndGlyphs">Tp=3486.1153</text>
<text x="214.5" y="78.5" font-size="12" fill="#0000ff" textLength="72" lengthAdjust="spacingAndGlyphs">Up=3382.2513</text>
<text x="293.5" y="78.5" font-size="12" fill="#000" textLength="72" lengthAdjust="spacingAndGlyphs">Md=3264.8875</text>
<text x="372.5" y="78.5" font-size="12" fill="#0000ff" textLength="72" lengthAdjust="spacingAndGlyphs">Dn=3106.1398</text>
<text x="452" y="78.5" font-size="12" fill="#ff0000" textLength="67" lengthAdjust="spacingAndGlyphs">Bt=2962.5998</text>
<text x="1135.5" y="77.5" font-size="12.5" fill="#0000ff" font-family="Liberation Mono" textLength="38.5" lengthAdjust="spacingAndGlyphs">1A0001</text>
<text x="1184" y="77.5" font-size="12.5" fill="#0000ff" stroke="#0000ff" stroke-width="0.35" textLength="50" lengthAdjust="spacingAndGlyphs">上证指数</text>
<text x="8.7" y="447" font-size="12" fill="#404040" font-family="Liberation Mono" textLength="53.3" lengthAdjust="spacingAndGlyphs">2810.2396</text>
<text x="8.7" y="471.2" font-size="12" fill="#404040" font-family="Liberation Mono" textLength="53.3" lengthAdjust="spacingAndGlyphs">205452801</text>
<text x="8.7" y="487" font-size="12" fill="#404040" font-family="Liberation Mono" textLength="53.3" lengthAdjust="spacingAndGlyphs">136968534</text>
<text x="14.5" y="502.5" font-size="12" fill="#404040" font-family="Liberation Mono" textLength="47.5" lengthAdjust="spacingAndGlyphs">68484267</text>
</svg></body></html>
